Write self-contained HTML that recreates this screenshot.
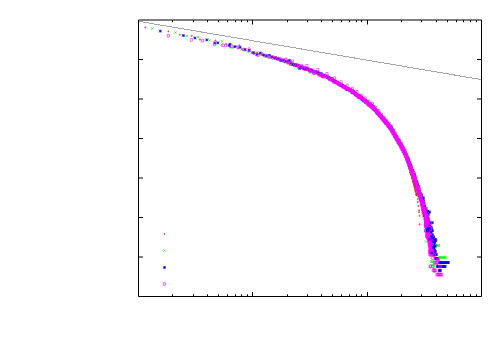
<!DOCTYPE html>
<html><head><meta charset="utf-8"><title>plot</title><style>html,body{margin:0;padding:0;background:#fff;font-family:"Liberation Sans",sans-serif}svg{display:block}</style></head><body><svg width="500" height="350" viewBox="0 0 500 350">
<rect width="500" height="350" fill="#fff"/>
<path d="M172.5 296.5v-2.2M172.5 20v2.2M193.5 296.5v-2.2M193.5 20v2.2M207.5 296.5v-2.2M207.5 20v2.2M218.5 296.5v-2.2M218.5 20v2.2M227.5 296.5v-2.2M227.5 20v2.2M235.5 296.5v-2.2M235.5 20v2.2M241.5 296.5v-2.2M241.5 20v2.2M247.5 296.5v-2.2M247.5 20v2.2M252.5 296.5v-4.5M252.5 20v4.5M287.5 296.5v-2.2M287.5 20v2.2M307.5 296.5v-2.2M307.5 20v2.2M321.5 296.5v-2.2M321.5 20v2.2M332.5 296.5v-2.2M332.5 20v2.2M341.5 296.5v-2.2M341.5 20v2.2M349.5 296.5v-2.2M349.5 20v2.2M356.5 296.5v-2.2M356.5 20v2.2M361.5 296.5v-2.2M361.5 20v2.2M367.5 296.5v-4.5M367.5 20v4.5M401.5 296.5v-2.2M401.5 20v2.2M421.5 296.5v-2.2M421.5 20v2.2M436.5 296.5v-2.2M436.5 20v2.2M447.5 296.5v-2.2M447.5 20v2.2M456.5 296.5v-2.2M456.5 20v2.2M463.5 296.5v-2.2M463.5 20v2.2M470.5 296.5v-2.2M470.5 20v2.2M476.5 296.5v-2.2M476.5 20v2.2M138.5 59.5h4.5M481.5 59.5h-4.5M138.5 99h4.5M481.5 99h-4.5M138.5 138.5h4.5M481.5 138.5h-4.5M138.5 178h4.5M481.5 178h-4.5M138.5 217.5h4.5M481.5 217.5h-4.5M138.5 257h4.5M481.5 257h-4.5" stroke="#000" stroke-width="1" fill="none"/>
<path d="M138.5 21.3L481.5 79.6" stroke="#a6a6a6" stroke-width="1" fill="none" shape-rendering="crispEdges"/>
<path d="M138.5 20H481.5V296.5H138.5z" stroke="#000" stroke-width="1" fill="none"/>
<path d="M144.3 27.4h2.1M145.4 26.3v2.1M167.4 31.4h2.1M168.5 30.3v2.1M178.8 34.8h2.1M179.8 33.8v2.1M190.6 35.8h2.1M191.7 34.8v2.1M198.9 39.6h2.1M200 38.6v2.1M214.3 40.4h2.1M215.4 39.4v2.1M225.3 44.2h2.1M226.4 43.2v2.1M238.3 45.2h2.1M239.4 44.2v2.1M229 47h2.1M230 46v2.1M233.3 47.3h2.1M234.3 46.3v2.1M237.2 48.1h2.1M238.3 47v2.1M240.9 49.5h2.1M242 48.4v2.1M244.4 50.4h2.1M245.4 49.4v2.1M247.6 51.4h2.1M248.6 50.4v2.1M250.6 52.8h2.1M251.6 51.7v2.1M253.4 53.3h2.1M254.5 52.2v2.1M256.1 52.4h2.1M257.1 51.3v2.1M258.6 53.9h2.1M259.7 52.9v2.1M261.1 54.8h2.1M262.1 53.8v2.1M263.4 54.9h2.1M264.4 53.9v2.1M265.6 56.2h2.1M266.6 55.2v2.1M267.7 57.8h2.1M268.7 56.7v2.1M269.7 57.9h2.1M270.8 56.9v2.1M271.7 57.1h2.1M272.7 56.1v2.1M273.5 58.2h2.1M274.6 57.1v2.1M275.3 59h2.1M276.4 58v2.1M277.1 58.7h2.1M278.1 57.7v2.1M278.8 60.9h2.1M279.8 59.8v2.1M280.4 60.7h2.1M281.4 59.6v2.1M282 59.9h2.1M283 58.8v2.1M283.5 62.5h2.1M284.6 61.4v2.1M285 61.7h2.1M286 60.7v2.1M286.4 61.8h2.1M287.5 60.8v2.1M287.8 62.9h2.1M288.9 61.8v2.1M289.2 64.1h2.1M290.2 63v2.1M290.5 64.7h2.1M291.6 63.6v2.1M291.8 64.8h2.1M292.8 63.7v2.1M293.1 64h2.1M294.1 63v2.1M294.3 65h2.1M295.3 64v2.1M295.5 65h2.1M296.5 63.9v2.1M296.6 66h2.1M297.7 64.9v2.1M297.8 65.3h2.1M298.8 64.2v2.1M298.9 67.3h2.1M300 66.3v2.1M300 67.9h2.1M301 66.9v2.1M301.1 66h2.1M302.1 65v2.1M302.1 67.7h2.1M303.2 66.6v2.1M303.1 69.3h2.1M304.2 68.2v2.1M304.1 69h2.1M305.2 68v2.1M305.1 69.6h2.1M306.2 68.5v2.1M306.1 70h2.1M307.1 69v2.1M307 70.3h2.1M308.1 69.3v2.1M308 71.1h2.1M309 70.1v2.1M308.9 70.9h2.1M309.9 69.9v2.1M309.8 70.5h2.1M310.8 69.4v2.1M310.6 70h2.1M311.7 69v2.1M311.5 72.2h2.1M312.6 71.2v2.1M312.4 72.9h2.1M313.4 71.8v2.1M313.2 72.1h2.1M314.2 71v2.1M314 72.9h2.1M315.1 71.8v2.1M314.8 73.5h2.1M315.9 72.4v2.1M315.6 72.8h2.1M316.7 71.8v2.1M316.4 73.4h2.1M317.4 72.3v2.1M317.2 74.3h2.1M318.2 73.2v2.1M317.9 73.7h2.1M319 72.7v2.1M318.7 74.2h2.1M319.7 73.2v2.1M319.4 74.4h2.1M320.5 73.4v2.1M320.1 74.3h2.1M321.2 73.2v2.1M320.8 74.4h2.1M321.9 73.4v2.1M321.5 75.8h2.1M322.6 74.8v2.1M322.2 76.3h2.1M323.3 75.2v2.1M322.9 76.2h2.1M324 75.1v2.1M323.6 76.7h2.1M324.7 75.7v2.1M324.3 76.8h2.1M325.3 75.8v2.1M324.9 77h2.1M326 75.9v2.1M325.6 77.6h2.1M326.6 76.5v2.1M326.2 77.7h2.1M327.3 76.7v2.1M326.8 77.7h2.1M327.9 76.6v2.1M327.5 78.7h2.1M328.5 77.6v2.1M328.1 78.7h2.1M329.1 77.7v2.1M328.7 77.5h2.1M329.7 76.5v2.1M329.3 79.3h2.1M330.4 78.3v2.1M329.9 79.6h2.1M330.9 78.6v2.1M330.5 80.2h2.1M331.5 79.1v2.1M331.1 79.9h2.1M332.1 78.8v2.1M331.6 80.7h2.1M332.7 79.6v2.1M332.2 80.7h2.1M333.3 79.7v2.1M332.8 81.1h2.1M333.8 80v2.1M333.3 81.2h2.1M334.4 80.1v2.1M333.9 81.2h2.1M334.9 80.1v2.1M334.4 82.5h2.1M335.5 81.5v2.1M334.9 83.1h2.1M336 82v2.1M335.5 82.5h2.1M336.5 81.5v2.1M336 83.3h2.1M337.1 82.2v2.1M336.5 82h2.1M337.6 81v2.1M337 82.9h2.1M338.1 81.9v2.1M337.5 83.2h2.1M338.6 82.1v2.1M338.1 84.7h2.1M339.1 83.7v2.1M338.6 84.6h2.1M339.6 83.5v2.1M339 84.8h2.1M340.1 83.8v2.1M339.5 85.7h2.1M340.6 84.7v2.1M340 85.2h2.1M341.1 84.1v2.1M340.5 85.1h2.1M341.5 84v2.1M341 85.8h2.1M342 84.7v2.1M341.4 86.5h2.1M342.5 85.4v2.1M341.9 86.7h2.1M343 85.7v2.1M342.4 86h2.1M343.4 85v2.1M342.8 86.5h2.1M343.9 85.5v2.1M343.3 86.6h2.1M344.3 85.5v2.1M343.7 87.8h2.1M344.8 86.8v2.1M344.2 87.3h2.1M345.2 86.3v2.1M344.6 87.5h2.1M345.7 86.4v2.1M345.1 89h2.1M346.1 87.9v2.1M345.5 89.2h2.1M346.5 88.2v2.1M345.9 88.7h2.1M347 87.6v2.1M346.3 89.6h2.1M347.4 88.6v2.1M346.8 89h2.1M347.8 87.9v2.1M347.2 89.7h2.1M348.2 88.6v2.1M347.6 89.3h2.1M348.7 88.2v2.1M348 90.7h2.1M349.1 89.6v2.1M348.4 90.1h2.1M349.5 89.1v2.1M348.8 90.9h2.1M349.9 89.9v2.1M349.2 90.8h2.1M350.3 89.7v2.1M349.6 90.8h2.1M350.7 89.8v2.1M350 91h2.1M351.1 89.9v2.1M350.4 91.8h2.1M351.5 90.7v2.1M350.8 91.3h2.1M351.9 90.3v2.1M351.2 92.2h2.1M352.2 91.2v2.1M351.6 92.7h2.1M352.6 91.7v2.1M352 92.9h2.1M353 91.8v2.1M352.3 93.4h2.1M353.4 92.3v2.1M352.7 93.3h2.1M353.8 92.3v2.1M353.1 92.7h2.1M354.1 91.7v2.1M353.5 93.9h2.1M354.5 92.9v2.1M353.8 93.7h2.1M354.9 92.7v2.1M354.2 94h2.1M355.2 92.9v2.1M354.5 94.4h2.1M355.6 93.3v2.1M354.9 94.6h2.1M356 93.5v2.1M355.3 95.3h2.1M356.3 94.2v2.1M355.6 94.5h2.1M356.7 93.5v2.1M356 95.8h2.1M357 94.8v2.1M356.3 95.3h2.1M357.4 94.3v2.1M356.7 96.2h2.1M357.7 95.2v2.1M357 96.5h2.1M358.1 95.5v2.1M357.3 95.9h2.1M358.4 94.8v2.1M357.7 96.4h2.1M358.7 95.3v2.1M358 96.7h2.1M359.1 95.6v2.1M358.4 96.8h2.1M359.4 95.8v2.1M358.7 97.4h2.1M359.7 96.3v2.1M359 97.8h2.1M360.1 96.8v2.1M359.3 98.1h2.1M360.4 97v2.1M359.7 97.3h2.1M360.7 96.3v2.1M360 98.3h2.1M361 97.3v2.1M360.3 98.3h2.1M361.4 97.2v2.1M360.6 98.7h2.1M361.7 97.7v2.1M361 99.5h2.1M362 98.5v2.1M361.3 99.6h2.1M362.3 98.5v2.1M361.6 99.9h2.1M362.6 98.9v2.1M361.9 98.9h2.1M362.9 97.9v2.1M362.2 100.7h2.1M363.2 99.7v2.1M362.5 100.1h2.1M363.6 99.1v2.1M362.8 99.8h2.1M363.9 98.8v2.1M363.1 101.9h2.1M364.2 100.9v2.1M363.4 101.4h2.1M364.5 100.3v2.1M363.7 101.2h2.1M364.8 100.2v2.1M364 101.9h2.1M365.1 100.9v2.1M364.3 101.7h2.1M365.4 100.7v2.1M364.6 102.3h2.1M365.7 101.3v2.1M364.9 102.1h2.1M366 101.1v2.1M365.2 102.3h2.1M366.2 101.2v2.1M365.5 102.7h2.1M366.5 101.6v2.1M365.8 102.5h2.1M366.8 101.4v2.1M366.1 103.6h2.1M367.1 102.5v2.1M366.3 102.1h2.1M367.4 101.1v2.1M366.6 103.8h2.1M367.7 102.7v2.1M366.9 104h2.1M368 102.9v2.1M367.2 104.2h2.1M368.2 103.2v2.1M367.5 104.7h2.1M368.5 103.6v2.1M367.7 104.1h2.1M368.8 103.1v2.1M368 105.5h2.1M369.1 104.4v2.1M368.3 104.6h2.1M369.3 103.5v2.1M368.6 105.2h2.1M369.6 104.1v2.1M368.8 104.9h2.1M369.9 103.8v2.1M369.1 106h2.1M370.1 104.9v2.1M369.4 105.2h2.1M370.4 104.1v2.1M369.6 106.4h2.1M370.7 105.4v2.1M369.9 106.6h2.1M370.9 105.5v2.1M370.2 106.6h2.1M371.2 105.5v2.1M370.4 106.3h2.1M371.5 105.3v2.1M370.7 107.1h2.1M371.7 106.1v2.1M370.9 107.1h2.1M372 106v2.1M371.2 107.5h2.1M372.3 106.5v2.1M371.5 107.7h2.1M372.5 106.6v2.1M371.7 108.1h2.1M372.8 107.1v2.1M372 107.6h2.1M373 106.6v2.1M372.2 108.3h2.1M373.3 107.2v2.1M372.5 108.6h2.1M373.5 107.5v2.1M372.7 108.9h2.1M373.8 107.8v2.1M373 108.5h2.1M374 107.4v2.1M373.2 109.7h2.1M374.3 108.7v2.1M373.5 109.4h2.1M374.5 108.4v2.1M373.7 109.3h2.1M374.8 108.3v2.1M374 110h2.1M375 109v2.1M374.2 110.6h2.1M375.2 109.5v2.1M374.4 109.3h2.1M375.5 108.3v2.1M374.7 111.4h2.1M375.7 110.4v2.1M374.9 110.4h2.1M376 109.3v2.1M375.2 111.5h2.1M376.2 110.4v2.1M375.4 111.6h2.1M376.4 110.5v2.1M375.6 112.1h2.1M376.7 111.1v2.1M375.9 112.3h2.1M376.9 111.3v2.1M376.1 112.8h2.1M377.1 111.7v2.1M376.3 112.1h2.1M377.4 111.1v2.1M376.6 113.2h2.1M377.6 112.2v2.1M376.8 113.6h2.1M377.8 112.6v2.1M377 113.8h2.1M378.1 112.8v2.1M377.2 114.8h2.1M378.3 113.8v2.1M377.5 113.9h2.1M378.5 112.8v2.1M377.7 115.4h2.1M378.8 114.4v2.1M377.9 114.9h2.1M379 113.8v2.1M378.2 114.8h2.1M379.2 113.7v2.1M378.4 115.1h2.1M379.4 114.1v2.1M378.6 115.8h2.1M379.6 114.7v2.1M378.8 115.6h2.1M379.9 114.5v2.1M379 116h2.1M380.1 115v2.1M379.3 116.1h2.1M380.3 115v2.1M379.5 116.6h2.1M380.5 115.6v2.1M379.7 116.3h2.1M380.7 115.3v2.1M379.9 116.2h2.1M381 115.1v2.1M380.1 116.2h2.1M381.2 115.2v2.1M380.3 117.6h2.1M381.4 116.6v2.1M380.6 117.6h2.1M381.6 116.5v2.1M380.8 117.2h2.1M381.8 116.2v2.1M381 118.4h2.1M382 117.3v2.1M381.2 118h2.1M382.2 116.9v2.1M381.4 117.8h2.1M382.4 116.8v2.1M381.6 119.3h2.1M382.7 118.2v2.1M381.8 119.1h2.1M382.9 118v2.1M382 118.6h2.1M383.1 117.5v2.1M382.2 119.1h2.1M383.3 118.1v2.1M382.4 119.2h2.1M383.5 118.2v2.1M382.6 120.2h2.1M383.7 119.1v2.1M382.8 120.6h2.1M383.9 119.6v2.1M383 121.1h2.1M384.1 120v2.1M383.2 120.6h2.1M384.3 119.5v2.1M383.5 120.6h2.1M384.5 119.5v2.1M383.7 121.3h2.1M384.7 120.2v2.1M383.9 120.8h2.1M384.9 119.7v2.1M384.1 121.7h2.1M385.1 120.7v2.1M384.2 121.8h2.1M385.3 120.8v2.1M384.4 121.9h2.1M385.5 120.8v2.1M384.6 122.6h2.1M385.7 121.5v2.1M384.8 122.4h2.1M385.9 121.3v2.1M385 121.7h2.1M386.1 120.6v2.1M385.2 123.2h2.1M386.3 122.1v2.1M385.4 123.5h2.1M386.5 122.4v2.1M385.6 123h2.1M386.7 122v2.1M385.8 123.7h2.1M386.9 122.7v2.1M386 124.4h2.1M387 123.3v2.1M386.2 124h2.1M387.2 122.9v2.1M386.4 124.5h2.1M387.4 123.5v2.1M386.6 124.9h2.1M387.6 123.9v2.1M386.8 124.4h2.1M387.8 123.4v2.1M386.9 124.9h2.1M388 123.9v2.1M387.1 125.5h2.1M388.2 124.4v2.1M387.3 125.8h2.1M388.4 124.7v2.1M387.5 125.8h2.1M388.6 124.7v2.1M387.7 126.1h2.1M388.7 125v2.1M387.9 126.5h2.1M388.9 125.4v2.1M388.1 125.6h2.1M389.1 124.5v2.1M388.2 127h2.1M389.3 126v2.1M388.4 128.2h2.1M389.5 127.1v2.1M388.6 127.9h2.1M389.7 126.9v2.1M388.8 128h2.1M389.8 126.9v2.1M389 127.7h2.1M390 126.7v2.1M389.1 127.5h2.1M390.2 126.5v2.1M389.3 127.8h2.1M390.4 126.7v2.1M389.5 129.4h2.1M390.5 128.4v2.1M389.7 128.8h2.1M390.7 127.7v2.1M389.9 129.1h2.1M390.9 128v2.1M390 129.5h2.1M391.1 128.4v2.1M390.2 130h2.1M391.3 128.9v2.1M390.4 130.7h2.1M391.4 129.7v2.1M390.6 130.3h2.1M391.6 129.2v2.1M390.7 130.3h2.1M391.8 129.3v2.1M390.9 130.5h2.1M392 129.5v2.1M391.1 130.9h2.1M392.1 129.8v2.1M391.2 131.7h2.1M392.3 130.7v2.1M391.4 131.7h2.1M392.5 130.6v2.1M391.6 132.3h2.1M392.6 131.3v2.1M391.8 132.4h2.1M392.8 131.3v2.1M391.9 133h2.1M393 132v2.1M392.1 133.8h2.1M393.1 132.8v2.1M392.3 133.5h2.1M393.3 132.4v2.1M392.4 133.4h2.1M393.5 132.3v2.1M392.6 134.5h2.1M393.7 133.4v2.1M392.8 133.4h2.1M393.8 132.3v2.1M392.9 133.5h2.1M394 132.4v2.1M393.1 134.3h2.1M394.2 133.2v2.1M393.3 134.6h2.1M394.3 133.6v2.1M393.4 134.6h2.1M394.5 133.5v2.1M393.6 134.7h2.1M394.6 133.6v2.1M393.8 135.8h2.1M394.8 134.7v2.1M393.9 135.8h2.1M395 134.7v2.1M394.1 136.2h2.1M395.1 135.2v2.1M394.2 137.2h2.1M395.3 136.1v2.1M394.4 136.7h2.1M395.5 135.6v2.1M394.6 136.7h2.1M395.6 135.6v2.1M394.7 137.1h2.1M395.8 136.1v2.1M394.9 137.8h2.1M395.9 136.7v2.1M395.1 138.8h2.1M396.1 137.7v2.1M395.2 138.1h2.1M396.3 137.1v2.1M395.4 137.5h2.1M396.4 136.5v2.1M395.5 138.7h2.1M396.6 137.7v2.1M395.7 139.1h2.1M396.7 138v2.1M395.8 139.3h2.1M396.9 138.3v2.1M396 139.8h2.1M397 138.7v2.1M396.2 139.3h2.1M397.2 138.3v2.1M396.3 139.5h2.1M397.4 138.5v2.1M396.5 140.5h2.1M397.5 139.5v2.1M396.6 140.8h2.1M397.7 139.8v2.1M396.8 140.9h2.1M397.8 139.9v2.1M396.9 141h2.1M398 139.9v2.1M397.1 141.3h2.1M398.1 140.2v2.1M397.2 141.3h2.1M398.3 140.3v2.1M397.4 142.2h2.1M398.4 141.1v2.1M397.5 142.4h2.1M398.6 141.3v2.1M397.7 142.1h2.1M398.7 141.1v2.1M397.8 142.5h2.1M398.9 141.5v2.1M398 143h2.1M399 142v2.1M398.1 142.8h2.1M399.2 141.8v2.1M398.3 143.4h2.1M399.3 142.3v2.1M398.4 144.3h2.1M399.5 143.2v2.1M398.6 143.1h2.1M399.6 142.1v2.1M398.7 144.1h2.1M399.8 143.1v2.1M398.9 144.6h2.1M399.9 143.5v2.1M399 144.6h2.1M400.1 143.5v2.1M399.2 144.7h2.1M400.2 143.6v2.1M399.3 144.5h2.1M400.4 143.5v2.1M399.5 145.6h2.1M400.5 144.5v2.1M399.6 145.9h2.1M400.7 144.9v2.1M399.8 147h2.1M400.8 145.9v2.1M399.9 145.9h2.1M400.9 144.8v2.1M400 146.7h2.1M401.1 145.7v2.1M400.2 146.1h2.1M401.2 145.1v2.1M400.3 147.1h2.1M401.4 146v2.1M400.5 147.1h2.1M401.5 146v2.1M400.6 147.7h2.1M401.7 146.6v2.1M400.8 147.7h2.1M401.8 146.6v2.1M400.9 148.4h2.1M401.9 147.4v2.1M401 148.2h2.1M402.1 147.1v2.1M401.2 148.2h2.1M402.2 147.2v2.1M401.3 149.1h2.1M402.4 148v2.1M401.5 149h2.1M402.5 147.9v2.1M401.6 149.3h2.1M402.7 148.3v2.1M401.7 149.3h2.1M402.8 148.3v2.1M401.9 149.8h2.1M402.9 148.8v2.1M402 149h2.1M403.1 147.9v2.1M402.2 150.4h2.1M403.2 149.3v2.1M402.3 150.8h2.1M403.3 149.8v2.1M402.4 150.5h2.1M403.5 149.4v2.1M402.6 150.5h2.1M403.6 149.4v2.1M402.7 151.3h2.1M403.8 150.2v2.1M402.8 151.8h2.1M403.9 150.7v2.1M403 151.8h2.1M404 150.7v2.1M403.1 153.2h2.1M404.2 152.1v2.1M403.2 153.7h2.1M404.3 152.6v2.1M403.4 153h2.1M404.4 152v2.1M403.5 154h2.1M404.6 152.9v2.1M403.7 152.6h2.1M404.7 151.6v2.1M403.8 154.7h2.1M404.8 153.6v2.1M403.9 155.9h2.1M405 154.8v2.1M404.1 155.1h2.1M405.1 154v2.1M404.2 155.7h2.1M405.2 154.6v2.1M404.3 155.5h2.1M405.4 154.4v2.1M404.4 154.4h2.1M405.5 153.3v2.1M404.6 156.4h2.1M405.6 155.3v2.1M404.7 157.9h2.1M405.8 156.9v2.1M404.8 157h2.1M405.9 155.9v2.1M405 156.9h2.1M406 155.9v2.1M405.1 157.9h2.1M406.2 156.8v2.1M405.2 158.2h2.1M406.3 157.1v2.1M405.4 158.8h2.1M406.4 157.8v2.1M405.5 158.9h2.1M406.5 157.9v2.1M405.6 159.3h2.1M406.7 158.2v2.1M405.7 159.8h2.1M406.8 158.8v2.1M405.9 159.6h2.1M406.9 158.5v2.1M406 160.7h2.1M407.1 159.7v2.1M406.1 160.8h2.1M407.2 159.7v2.1M406.3 161.5h2.1M407.3 160.5v2.1M406.4 161.4h2.1M407.4 160.4v2.1M406.5 161.7h2.1M407.6 160.6v2.1M406.6 162.2h2.1M407.7 161.1v2.1M406.8 162.9h2.1M407.8 161.8v2.1M406.9 163.2h2.1M407.9 162.2v2.1M407 162.5h2.1M408.1 161.5v2.1M407.1 164.1h2.1M408.2 163v2.1M407.3 164.8h2.1M408.3 163.7v2.1M407.4 165.4h2.1M408.4 164.4v2.1M407.5 165.4h2.1M408.6 164.3v2.1M407.6 166.4h2.1M408.7 165.3v2.1M407.8 166.3h2.1M408.8 165.2v2.1M407.9 166.5h2.1M408.9 165.4v2.1M408 167.4h2.1M409.1 166.3v2.1M408.1 168.2h2.1M409.2 167.2v2.1M408.2 167.6h2.1M409.3 166.5v2.1M408.4 167.8h2.1M409.4 166.7v2.1M408.5 168.7h2.1M409.5 167.7v2.1M408.6 168.5h2.1M409.7 167.5v2.1M408.7 169.1h2.1M409.8 168v2.1M408.9 169.1h2.1M409.9 168.1v2.1M409 170.4h2.1M410 169.3v2.1M409.1 170.5h2.1M410.1 169.4v2.1M409.2 172.1h2.1M410.3 171v2.1M409.3 171.6h2.1M410.4 170.6v2.1M409.5 172.7h2.1M410.5 171.7v2.1M409.6 172.6h2.1M410.6 171.5v2.1M409.7 173h2.1M410.7 172v2.1M409.8 173.2h2.1M410.9 172.1v2.1M409.9 174.2h2.1M411 173.2v2.1M410 173.1h2.1M411.1 172v2.1M410.2 174.6h2.1M411.2 173.6v2.1M410.3 173.3h2.1M411.3 172.3v2.1M410.4 173.9h2.1M411.4 172.9v2.1M410.5 174.8h2.1M411.6 173.7v2.1M410.6 175.5h2.1M411.7 174.4v2.1M410.7 175.1h2.1M411.8 174.1v2.1M410.9 175.9h2.1M411.9 174.8v2.1M411 176.9h2.1M412 175.9v2.1M411.1 178.6h2.1M412.1 177.5v2.1M411.2 176.5h2.1M412.3 175.5v2.1M411.3 176.7h2.1M412.4 175.7v2.1M411.4 177.5h2.1M412.5 176.4v2.1M411.6 178.3h2.1M412.6 177.3v2.1M411.7 179.3h2.1M412.7 178.2v2.1M411.8 177.8h2.1M412.8 176.8v2.1M411.9 179.9h2.1M412.9 178.9v2.1M412 180.9h2.1M413.1 179.9v2.1M412.1 181.1h2.1M413.2 180.1v2.1M412.2 182h2.1M413.3 180.9v2.1M412.3 181.9h2.1M413.4 180.9v2.1M412.5 182h2.1M413.5 181v2.1M412.6 182.8h2.1M413.6 181.7v2.1M412.7 182.9h2.1M413.7 181.9v2.1M412.8 181.5h2.1M413.8 180.4v2.1M412.9 184.1h2.1M414 183v2.1M413 184.6h2.1M414.1 183.5v2.1M413.1 184.9h2.1M414.2 183.8v2.1M413.2 184.1h2.1M414.3 183v2.1M413.3 186.3h2.1M414.4 185.2v2.1M413.5 185.1h2.1M414.5 184v2.1M413.6 186.1h2.1M414.6 185v2.1M413.7 186.4h2.1M414.7 185.4v2.1M413.8 187.6h2.1M414.8 186.6v2.1M413.9 186.6h2.1M414.9 185.5v2.1M414 187.4h2.1M415.1 186.3v2.1M414.1 189.9h2.1M415.2 188.8v2.1M414.2 188.1h2.1M415.3 187.1v2.1M414.3 189.1h2.1M415.4 188.1v2.1M414.4 189.5h2.1M415.5 188.5v2.1M414.5 189.6h2.1M415.6 188.5v2.1M414.7 191.9h2.1M415.7 190.9v2.1M414.8 190.5h2.1M415.8 189.4v2.1M414.9 190.8h2.1M415.9 189.7v2.1M415 194.2h2.1M416 193.2v2.1M415.1 190.2h2.1M416.1 189.2v2.1M415.2 190.6h2.1M416.2 189.5v2.1M415.3 191.9h2.1M416.3 190.9v2.1M415.4 194.5h2.1M416.4 193.4v2.1M415.5 190.7h2.1M416.6 189.6v2.1M415.6 195.3h2.1M416.7 194.2v2.1M415.7 193.2h2.1M416.8 192.2v2.1M415.8 195h2.1M416.9 194v2.1M415.9 191.4h2.1M417 190.3v2.1M431.2 256h2.1M432.3 254.9v2.1M436.1 264.3h2.1M437.2 263.2v2.1M432.2 268h2.1M433.3 266.9v2.1M416.8 199h2.1M417.8 197.9v2.1M416.8 202h2.1M417.8 200.9v2.1M417.3 206.2h2.1M418.4 205.1v2.1M417.9 210.4h2.1M419 209.3v2.1M417.9 212.2h2.1M419 211.1v2.1M418.6 215.8h2.1M419.6 214.8v2.1M418.6 224.2h2.1M419.6 223.1v2.1M163.4 234h2.1M164.5 232.9v2.1" stroke="#f00" stroke-width="0.55" fill="none"/>
<path d="M151.2 27.5l2.3 2.3M151.2 29.8l2.3 -2.3M174.3 31.4l2.3 2.3M174.3 33.6l2.3 -2.3M185.8 34.9l2.3 2.3M185.8 37.1l2.3 -2.3M197 35.9l2.3 2.3M197 38.1l2.3 -2.3M208.4 39.2l2.3 2.3M208.4 41.5l2.3 -2.3M221.2 40.1l2.3 2.3M221.2 42.4l2.3 -2.3M220.4 43.6l2.3 2.3M220.4 45.9l2.3 -2.3M231.1 46.8l2.3 2.3M231.1 49.1l2.3 -2.3M235.8 45.3l2.3 2.3M235.8 47.6l2.3 -2.3M240.1 48.4l2.3 2.3M240.1 50.7l2.3 -2.3M244.1 48.6l2.3 2.3M244.1 50.9l2.3 -2.3M247.8 50.5l2.3 2.3M247.8 52.8l2.3 -2.3M251.2 51.1l2.3 2.3M251.2 53.4l2.3 -2.3M254.4 51.8l2.3 2.3M254.4 54.1l2.3 -2.3M257.4 52.8l2.3 2.3M257.4 55.1l2.3 -2.3M260.2 53.3l2.3 2.3M260.2 55.6l2.3 -2.3M262.9 55.3l2.3 2.3M262.9 57.6l2.3 -2.3M265.5 54.6l2.3 2.3M265.5 56.9l2.3 -2.3M267.9 56.4l2.3 2.3M267.9 58.7l2.3 -2.3M270.2 56.3l2.3 2.3M270.2 58.6l2.3 -2.3M272.4 57.5l2.3 2.3M272.4 59.8l2.3 -2.3M274.5 56.2l2.3 2.3M274.5 58.5l2.3 -2.3M276.5 58.7l2.3 2.3M276.5 61l2.3 -2.3M278.5 58.8l2.3 2.3M278.5 61.1l2.3 -2.3M280.4 59.3l2.3 2.3M280.4 61.6l2.3 -2.3M282.2 59.7l2.3 2.3M282.2 62l2.3 -2.3M283.9 60.3l2.3 2.3M283.9 62.6l2.3 -2.3M285.6 61.8l2.3 2.3M285.6 64.1l2.3 -2.3M287.2 62.4l2.3 2.3M287.2 64.7l2.3 -2.3M288.8 62.8l2.3 2.3M288.8 65.1l2.3 -2.3M290.3 63.3l2.3 2.3M290.3 65.6l2.3 -2.3M291.8 63.7l2.3 2.3M291.8 66l2.3 -2.3M293.3 62.9l2.3 2.3M293.3 65.2l2.3 -2.3M294.7 64.9l2.3 2.3M294.7 67.2l2.3 -2.3M296 65.4l2.3 2.3M296 67.7l2.3 -2.3M297.3 66.4l2.3 2.3M297.3 68.7l2.3 -2.3M298.6 66.7l2.3 2.3M298.6 69l2.3 -2.3M299.9 66.6l2.3 2.3M299.9 68.9l2.3 -2.3M301.1 66.8l2.3 2.3M301.1 69.1l2.3 -2.3M302.3 66.2l2.3 2.3M302.3 68.5l2.3 -2.3M303.5 67.9l2.3 2.3M303.5 70.2l2.3 -2.3M304.6 68.3l2.3 2.3M304.6 70.6l2.3 -2.3M305.7 68.5l2.3 2.3M305.7 70.8l2.3 -2.3M306.8 67.2l2.3 2.3M306.8 69.5l2.3 -2.3M307.9 68.2l2.3 2.3M307.9 70.5l2.3 -2.3M308.9 71.6l2.3 2.3M308.9 73.9l2.3 -2.3M310 70.2l2.3 2.3M310 72.5l2.3 -2.3M311 70.3l2.3 2.3M311 72.6l2.3 -2.3M312 69.4l2.3 2.3M312 71.7l2.3 -2.3M312.9 71.5l2.3 2.3M312.9 73.8l2.3 -2.3M313.9 71.2l2.3 2.3M313.9 73.5l2.3 -2.3M314.8 71.6l2.3 2.3M314.8 73.9l2.3 -2.3M315.7 72l2.3 2.3M315.7 74.3l2.3 -2.3M316.6 72.6l2.3 2.3M316.6 74.9l2.3 -2.3M317.5 73.5l2.3 2.3M317.5 75.8l2.3 -2.3M318.3 73.3l2.3 2.3M318.3 75.6l2.3 -2.3M319.2 73.8l2.3 2.3M319.2 76.1l2.3 -2.3M320 75.2l2.3 2.3M320 77.5l2.3 -2.3M320.8 73.2l2.3 2.3M320.8 75.5l2.3 -2.3M321.6 75.6l2.3 2.3M321.6 77.9l2.3 -2.3M322.4 75.5l2.3 2.3M322.4 77.8l2.3 -2.3M323.2 75l2.3 2.3M323.2 77.3l2.3 -2.3M324 75.3l2.3 2.3M324 77.6l2.3 -2.3M324.8 75.6l2.3 2.3M324.8 77.9l2.3 -2.3M325.5 77.5l2.3 2.3M325.5 79.8l2.3 -2.3M326.2 76.4l2.3 2.3M326.2 78.7l2.3 -2.3M327 76.7l2.3 2.3M327 79l2.3 -2.3M327.7 77.5l2.3 2.3M327.7 79.8l2.3 -2.3M328.4 78.6l2.3 2.3M328.4 80.9l2.3 -2.3M329.1 78.4l2.3 2.3M329.1 80.7l2.3 -2.3M329.8 78.5l2.3 2.3M329.8 80.8l2.3 -2.3M330.4 78.7l2.3 2.3M330.4 81l2.3 -2.3M331.1 78.3l2.3 2.3M331.1 80.6l2.3 -2.3M331.8 79.4l2.3 2.3M331.8 81.7l2.3 -2.3M332.4 80.1l2.3 2.3M332.4 82.4l2.3 -2.3M333 80.5l2.3 2.3M333 82.8l2.3 -2.3M333.7 80.5l2.3 2.3M333.7 82.8l2.3 -2.3M334.3 81.1l2.3 2.3M334.3 83.4l2.3 -2.3M334.9 81.8l2.3 2.3M334.9 84.1l2.3 -2.3M335.5 81.8l2.3 2.3M335.5 84.1l2.3 -2.3M336.1 82.3l2.3 2.3M336.1 84.6l2.3 -2.3M336.7 82.9l2.3 2.3M336.7 85.2l2.3 -2.3M337.3 83.6l2.3 2.3M337.3 85.9l2.3 -2.3M337.9 83.1l2.3 2.3M337.9 85.4l2.3 -2.3M338.5 83.3l2.3 2.3M338.5 85.6l2.3 -2.3M339 84.8l2.3 2.3M339 87.1l2.3 -2.3M339.6 84.5l2.3 2.3M339.6 86.8l2.3 -2.3M340.2 85l2.3 2.3M340.2 87.3l2.3 -2.3M340.7 84.4l2.3 2.3M340.7 86.7l2.3 -2.3M341.2 85.5l2.3 2.3M341.2 87.8l2.3 -2.3M341.8 85.6l2.3 2.3M341.8 87.9l2.3 -2.3M342.3 85.7l2.3 2.3M342.3 88l2.3 -2.3M342.8 85.8l2.3 2.3M342.8 88.1l2.3 -2.3M343.4 86.2l2.3 2.3M343.4 88.5l2.3 -2.3M343.9 87.8l2.3 2.3M343.9 90.1l2.3 -2.3M344.4 87.2l2.3 2.3M344.4 89.5l2.3 -2.3M344.9 87.6l2.3 2.3M344.9 89.9l2.3 -2.3M345.4 87.9l2.3 2.3M345.4 90.2l2.3 -2.3M345.9 88l2.3 2.3M345.9 90.3l2.3 -2.3M346.4 88.1l2.3 2.3M346.4 90.4l2.3 -2.3M346.9 89.1l2.3 2.3M346.9 91.4l2.3 -2.3M347.3 88.8l2.3 2.3M347.3 91.1l2.3 -2.3M347.8 88.8l2.3 2.3M347.8 91.1l2.3 -2.3M348.3 89.7l2.3 2.3M348.3 92l2.3 -2.3M348.7 89.9l2.3 2.3M348.7 92.2l2.3 -2.3M349.2 89.2l2.3 2.3M349.2 91.5l2.3 -2.3M349.7 90.2l2.3 2.3M349.7 92.5l2.3 -2.3M350.1 89.9l2.3 2.3M350.1 92.2l2.3 -2.3M350.6 90.2l2.3 2.3M350.6 92.5l2.3 -2.3M351 91.2l2.3 2.3M351 93.5l2.3 -2.3M351.5 91.4l2.3 2.3M351.5 93.7l2.3 -2.3M351.9 92.2l2.3 2.3M351.9 94.5l2.3 -2.3M352.3 91.1l2.3 2.3M352.3 93.4l2.3 -2.3M352.8 91.8l2.3 2.3M352.8 94.1l2.3 -2.3M353.2 92.3l2.3 2.3M353.2 94.6l2.3 -2.3M353.6 92.2l2.3 2.3M353.6 94.5l2.3 -2.3M354 93.7l2.3 2.3M354 96l2.3 -2.3M354.4 93.3l2.3 2.3M354.4 95.6l2.3 -2.3M354.8 93.7l2.3 2.3M354.8 96l2.3 -2.3M355.3 94.4l2.3 2.3M355.3 96.7l2.3 -2.3M355.7 93.3l2.3 2.3M355.7 95.6l2.3 -2.3M356.1 94.2l2.3 2.3M356.1 96.5l2.3 -2.3M356.5 94.7l2.3 2.3M356.5 97l2.3 -2.3M356.9 96.2l2.3 2.3M356.9 98.5l2.3 -2.3M357.3 95.1l2.3 2.3M357.3 97.4l2.3 -2.3M357.6 94.8l2.3 2.3M357.6 97.1l2.3 -2.3M358 96.3l2.3 2.3M358 98.6l2.3 -2.3M358.4 95.6l2.3 2.3M358.4 97.9l2.3 -2.3M358.8 97l2.3 2.3M358.8 99.3l2.3 -2.3M359.2 96.9l2.3 2.3M359.2 99.2l2.3 -2.3M359.5 97.9l2.3 2.3M359.5 100.2l2.3 -2.3M359.9 98.1l2.3 2.3M359.9 100.4l2.3 -2.3M360.3 98l2.3 2.3M360.3 100.3l2.3 -2.3M360.7 98.8l2.3 2.3M360.7 101.1l2.3 -2.3M361 98.7l2.3 2.3M361 101l2.3 -2.3M361.4 98.7l2.3 2.3M361.4 101l2.3 -2.3M361.7 98.4l2.3 2.3M361.7 100.7l2.3 -2.3M362.1 98.6l2.3 2.3M362.1 100.9l2.3 -2.3M362.4 99.8l2.3 2.3M362.4 102.1l2.3 -2.3M362.8 100.4l2.3 2.3M362.8 102.7l2.3 -2.3M363.1 99.2l2.3 2.3M363.1 101.5l2.3 -2.3M363.5 100.7l2.3 2.3M363.5 103l2.3 -2.3M363.8 100.1l2.3 2.3M363.8 102.4l2.3 -2.3M364.2 101.1l2.3 2.3M364.2 103.4l2.3 -2.3M364.5 101.2l2.3 2.3M364.5 103.5l2.3 -2.3M364.9 100.7l2.3 2.3M364.9 103l2.3 -2.3M365.2 101l2.3 2.3M365.2 103.3l2.3 -2.3M365.5 101.6l2.3 2.3M365.5 103.9l2.3 -2.3M365.8 102.3l2.3 2.3M365.8 104.6l2.3 -2.3M366.2 102.1l2.3 2.3M366.2 104.4l2.3 -2.3M366.5 103.1l2.3 2.3M366.5 105.4l2.3 -2.3M366.8 103l2.3 2.3M366.8 105.3l2.3 -2.3M367.1 103.9l2.3 2.3M367.1 106.2l2.3 -2.3M367.5 103.7l2.3 2.3M367.5 106l2.3 -2.3M367.8 103.6l2.3 2.3M367.8 105.9l2.3 -2.3M368.1 103.4l2.3 2.3M368.1 105.7l2.3 -2.3M368.4 104.3l2.3 2.3M368.4 106.6l2.3 -2.3M368.7 104.7l2.3 2.3M368.7 107l2.3 -2.3M369 105.3l2.3 2.3M369 107.6l2.3 -2.3M369.3 104.9l2.3 2.3M369.3 107.2l2.3 -2.3M369.6 105.1l2.3 2.3M369.6 107.4l2.3 -2.3M369.9 105.3l2.3 2.3M369.9 107.6l2.3 -2.3M370.3 105.8l2.3 2.3M370.3 108.1l2.3 -2.3M370.6 104.8l2.3 2.3M370.6 107.1l2.3 -2.3M370.8 106.3l2.3 2.3M370.8 108.6l2.3 -2.3M371.1 106.6l2.3 2.3M371.1 108.9l2.3 -2.3M371.4 107.3l2.3 2.3M371.4 109.6l2.3 -2.3M371.7 107.7l2.3 2.3M371.7 110l2.3 -2.3M372 108.4l2.3 2.3M372 110.7l2.3 -2.3M372.3 107.9l2.3 2.3M372.3 110.2l2.3 -2.3M372.6 107.4l2.3 2.3M372.6 109.7l2.3 -2.3M372.9 108.6l2.3 2.3M372.9 110.9l2.3 -2.3M373.2 108.9l2.3 2.3M373.2 111.2l2.3 -2.3M373.5 108l2.3 2.3M373.5 110.3l2.3 -2.3M373.7 108.7l2.3 2.3M373.7 111l2.3 -2.3M374 109.6l2.3 2.3M374 111.9l2.3 -2.3M374.3 109.5l2.3 2.3M374.3 111.8l2.3 -2.3M374.6 109.8l2.3 2.3M374.6 112.1l2.3 -2.3M374.8 110.5l2.3 2.3M374.8 112.8l2.3 -2.3M375.1 110.2l2.3 2.3M375.1 112.5l2.3 -2.3M375.4 111.4l2.3 2.3M375.4 113.7l2.3 -2.3M375.7 111.6l2.3 2.3M375.7 113.9l2.3 -2.3M375.9 111.3l2.3 2.3M375.9 113.6l2.3 -2.3M376.2 111.1l2.3 2.3M376.2 113.4l2.3 -2.3M376.5 112.4l2.3 2.3M376.5 114.7l2.3 -2.3M376.7 113.1l2.3 2.3M376.7 115.4l2.3 -2.3M377 112l2.3 2.3M377 114.3l2.3 -2.3M377.3 113.4l2.3 2.3M377.3 115.7l2.3 -2.3M377.5 112.7l2.3 2.3M377.5 115l2.3 -2.3M377.8 113.9l2.3 2.3M377.8 116.2l2.3 -2.3M378 113.7l2.3 2.3M378 116l2.3 -2.3M378.3 114.5l2.3 2.3M378.3 116.8l2.3 -2.3M378.5 113.7l2.3 2.3M378.5 116l2.3 -2.3M378.8 115l2.3 2.3M378.8 117.3l2.3 -2.3M379.1 115.5l2.3 2.3M379.1 117.8l2.3 -2.3M379.3 115.4l2.3 2.3M379.3 117.7l2.3 -2.3M379.6 116l2.3 2.3M379.6 118.3l2.3 -2.3M379.8 115.9l2.3 2.3M379.8 118.2l2.3 -2.3M380 117l2.3 2.3M380 119.3l2.3 -2.3M380.3 116.8l2.3 2.3M380.3 119.1l2.3 -2.3M380.5 116.8l2.3 2.3M380.5 119.1l2.3 -2.3M380.8 116.7l2.3 2.3M380.8 119l2.3 -2.3M381 118.1l2.3 2.3M381 120.4l2.3 -2.3M381.3 117.9l2.3 2.3M381.3 120.2l2.3 -2.3M381.5 118.1l2.3 2.3M381.5 120.4l2.3 -2.3M381.7 118.8l2.3 2.3M381.7 121.1l2.3 -2.3M382 118.1l2.3 2.3M382 120.4l2.3 -2.3M382.2 118.5l2.3 2.3M382.2 120.8l2.3 -2.3M382.5 119.6l2.3 2.3M382.5 121.9l2.3 -2.3M382.7 119.8l2.3 2.3M382.7 122.1l2.3 -2.3M382.9 119.4l2.3 2.3M382.9 121.7l2.3 -2.3M383.2 119.6l2.3 2.3M383.2 121.9l2.3 -2.3M383.4 120.4l2.3 2.3M383.4 122.7l2.3 -2.3M383.6 119.6l2.3 2.3M383.6 121.9l2.3 -2.3M383.9 120.1l2.3 2.3M383.9 122.4l2.3 -2.3M384.1 120.5l2.3 2.3M384.1 122.8l2.3 -2.3M384.3 120.9l2.3 2.3M384.3 123.2l2.3 -2.3M384.5 122.2l2.3 2.3M384.5 124.5l2.3 -2.3M384.8 122.1l2.3 2.3M384.8 124.4l2.3 -2.3M385 121.4l2.3 2.3M385 123.7l2.3 -2.3M385.2 122.1l2.3 2.3M385.2 124.4l2.3 -2.3M385.4 122.9l2.3 2.3M385.4 125.2l2.3 -2.3M385.7 122.6l2.3 2.3M385.7 124.9l2.3 -2.3M385.9 122.3l2.3 2.3M385.9 124.6l2.3 -2.3M386.1 124.1l2.3 2.3M386.1 126.4l2.3 -2.3M386.3 123.3l2.3 2.3M386.3 125.6l2.3 -2.3M386.5 124.1l2.3 2.3M386.5 126.4l2.3 -2.3M386.7 124.4l2.3 2.3M386.7 126.7l2.3 -2.3M387 125.2l2.3 2.3M387 127.5l2.3 -2.3M387.2 124.6l2.3 2.3M387.2 126.9l2.3 -2.3M387.4 125.5l2.3 2.3M387.4 127.8l2.3 -2.3M387.6 125.2l2.3 2.3M387.6 127.5l2.3 -2.3M387.8 125.6l2.3 2.3M387.8 127.9l2.3 -2.3M388 125.4l2.3 2.3M388 127.7l2.3 -2.3M388.2 126.7l2.3 2.3M388.2 129l2.3 -2.3M388.4 127.1l2.3 2.3M388.4 129.4l2.3 -2.3M388.6 127.2l2.3 2.3M388.6 129.5l2.3 -2.3M388.9 127.8l2.3 2.3M388.9 130.1l2.3 -2.3M389.1 127.3l2.3 2.3M389.1 129.6l2.3 -2.3M389.3 127.9l2.3 2.3M389.3 130.2l2.3 -2.3M389.5 127.8l2.3 2.3M389.5 130.1l2.3 -2.3M389.7 128.4l2.3 2.3M389.7 130.7l2.3 -2.3M389.9 128.7l2.3 2.3M389.9 131l2.3 -2.3M390.1 129.5l2.3 2.3M390.1 131.8l2.3 -2.3M390.3 128.9l2.3 2.3M390.3 131.2l2.3 -2.3M390.5 130.2l2.3 2.3M390.5 132.5l2.3 -2.3M390.7 130l2.3 2.3M390.7 132.3l2.3 -2.3M390.9 130.7l2.3 2.3M390.9 133l2.3 -2.3M391.1 129.8l2.3 2.3M391.1 132.1l2.3 -2.3M391.3 130.9l2.3 2.3M391.3 133.2l2.3 -2.3M391.5 132.2l2.3 2.3M391.5 134.5l2.3 -2.3M391.7 131.9l2.3 2.3M391.7 134.2l2.3 -2.3M391.9 131l2.3 2.3M391.9 133.3l2.3 -2.3M392.1 132.1l2.3 2.3M392.1 134.4l2.3 -2.3M392.3 132.3l2.3 2.3M392.3 134.6l2.3 -2.3M392.4 132.3l2.3 2.3M392.4 134.6l2.3 -2.3M392.6 132.7l2.3 2.3M392.6 135l2.3 -2.3M392.8 133.6l2.3 2.3M392.8 135.9l2.3 -2.3M393 133.8l2.3 2.3M393 136.1l2.3 -2.3M393.2 134l2.3 2.3M393.2 136.3l2.3 -2.3M393.4 134.7l2.3 2.3M393.4 137l2.3 -2.3M393.6 135.1l2.3 2.3M393.6 137.4l2.3 -2.3M393.8 135.2l2.3 2.3M393.8 137.5l2.3 -2.3M394 134.9l2.3 2.3M394 137.2l2.3 -2.3M394.1 135.2l2.3 2.3M394.1 137.5l2.3 -2.3M394.3 136.2l2.3 2.3M394.3 138.5l2.3 -2.3M394.5 135.8l2.3 2.3M394.5 138.1l2.3 -2.3M394.7 137.3l2.3 2.3M394.7 139.6l2.3 -2.3M394.9 136.9l2.3 2.3M394.9 139.2l2.3 -2.3M395.1 137.3l2.3 2.3M395.1 139.6l2.3 -2.3M395.3 137.3l2.3 2.3M395.3 139.6l2.3 -2.3M395.4 138l2.3 2.3M395.4 140.3l2.3 -2.3M395.6 139l2.3 2.3M395.6 141.3l2.3 -2.3M395.8 138.7l2.3 2.3M395.8 141l2.3 -2.3M396 138.4l2.3 2.3M396 140.7l2.3 -2.3M396.2 140l2.3 2.3M396.2 142.3l2.3 -2.3M396.3 139l2.3 2.3M396.3 141.3l2.3 -2.3M396.5 138.9l2.3 2.3M396.5 141.2l2.3 -2.3M396.7 139.3l2.3 2.3M396.7 141.6l2.3 -2.3M396.9 141.1l2.3 2.3M396.9 143.4l2.3 -2.3M397 140.6l2.3 2.3M397 142.9l2.3 -2.3M397.2 141.4l2.3 2.3M397.2 143.7l2.3 -2.3M397.4 141.2l2.3 2.3M397.4 143.5l2.3 -2.3M397.6 141.9l2.3 2.3M397.6 144.2l2.3 -2.3M397.7 142l2.3 2.3M397.7 144.3l2.3 -2.3M397.9 142.3l2.3 2.3M397.9 144.6l2.3 -2.3M398.1 142.6l2.3 2.3M398.1 144.9l2.3 -2.3M398.3 142.6l2.3 2.3M398.3 144.9l2.3 -2.3M398.4 143.2l2.3 2.3M398.4 145.5l2.3 -2.3M398.6 143.6l2.3 2.3M398.6 145.9l2.3 -2.3M398.8 143l2.3 2.3M398.8 145.3l2.3 -2.3M398.9 144.4l2.3 2.3M398.9 146.7l2.3 -2.3M399.1 144.3l2.3 2.3M399.1 146.6l2.3 -2.3M399.3 144.2l2.3 2.3M399.3 146.5l2.3 -2.3M399.4 145.1l2.3 2.3M399.4 147.4l2.3 -2.3M399.6 144.3l2.3 2.3M399.6 146.6l2.3 -2.3M399.8 146.6l2.3 2.3M399.8 148.9l2.3 -2.3M399.9 145.8l2.3 2.3M399.9 148.1l2.3 -2.3M400.1 146.1l2.3 2.3M400.1 148.4l2.3 -2.3M400.3 145.9l2.3 2.3M400.3 148.2l2.3 -2.3M400.4 147.5l2.3 2.3M400.4 149.8l2.3 -2.3M400.6 147.4l2.3 2.3M400.6 149.7l2.3 -2.3M400.8 147.2l2.3 2.3M400.8 149.5l2.3 -2.3M400.9 148.2l2.3 2.3M400.9 150.5l2.3 -2.3M401.1 148.2l2.3 2.3M401.1 150.5l2.3 -2.3M401.2 148l2.3 2.3M401.2 150.3l2.3 -2.3M401.4 148.2l2.3 2.3M401.4 150.5l2.3 -2.3M401.6 148.8l2.3 2.3M401.6 151.1l2.3 -2.3M401.7 148.8l2.3 2.3M401.7 151.1l2.3 -2.3M401.9 148.7l2.3 2.3M401.9 151l2.3 -2.3M402 150.1l2.3 2.3M402 152.4l2.3 -2.3M402.2 150.7l2.3 2.3M402.2 153l2.3 -2.3M402.4 149.7l2.3 2.3M402.4 152l2.3 -2.3M402.5 151.3l2.3 2.3M402.5 153.6l2.3 -2.3M402.7 151l2.3 2.3M402.7 153.3l2.3 -2.3M402.8 151.8l2.3 2.3M402.8 154.1l2.3 -2.3M403 152.1l2.3 2.3M403 154.4l2.3 -2.3M403.1 152.2l2.3 2.3M403.1 154.5l2.3 -2.3M403.3 151.8l2.3 2.3M403.3 154.1l2.3 -2.3M403.4 152.9l2.3 2.3M403.4 155.2l2.3 -2.3M403.6 152.7l2.3 2.3M403.6 155l2.3 -2.3M403.8 153l2.3 2.3M403.8 155.3l2.3 -2.3M403.9 153.7l2.3 2.3M403.9 156l2.3 -2.3M404.1 153.8l2.3 2.3M404.1 156.1l2.3 -2.3M404.2 154.6l2.3 2.3M404.2 156.9l2.3 -2.3M404.4 155.2l2.3 2.3M404.4 157.5l2.3 -2.3M404.5 154.5l2.3 2.3M404.5 156.8l2.3 -2.3M404.7 155.3l2.3 2.3M404.7 157.6l2.3 -2.3M404.8 155.6l2.3 2.3M404.8 157.9l2.3 -2.3M405 156.1l2.3 2.3M405 158.4l2.3 -2.3M405.1 157.2l2.3 2.3M405.1 159.5l2.3 -2.3M405.3 157.5l2.3 2.3M405.3 159.8l2.3 -2.3M405.4 156.2l2.3 2.3M405.4 158.5l2.3 -2.3M405.6 158.4l2.3 2.3M405.6 160.7l2.3 -2.3M405.7 158.4l2.3 2.3M405.7 160.7l2.3 -2.3M405.9 158.1l2.3 2.3M405.9 160.4l2.3 -2.3M406 158.9l2.3 2.3M406 161.2l2.3 -2.3M406.2 159.5l2.3 2.3M406.2 161.8l2.3 -2.3M406.3 158.3l2.3 2.3M406.3 160.6l2.3 -2.3M406.4 160.3l2.3 2.3M406.4 162.6l2.3 -2.3M406.6 160.2l2.3 2.3M406.6 162.5l2.3 -2.3M406.7 160.3l2.3 2.3M406.7 162.6l2.3 -2.3M406.9 161.2l2.3 2.3M406.9 163.5l2.3 -2.3M407 162.2l2.3 2.3M407 164.5l2.3 -2.3M407.2 163.6l2.3 2.3M407.2 165.9l2.3 -2.3M407.3 163.6l2.3 2.3M407.3 165.9l2.3 -2.3M407.4 162.8l2.3 2.3M407.4 165.1l2.3 -2.3M407.6 162.7l2.3 2.3M407.6 165l2.3 -2.3M407.7 163.2l2.3 2.3M407.7 165.5l2.3 -2.3M407.9 165l2.3 2.3M407.9 167.3l2.3 -2.3M408 163.2l2.3 2.3M408 165.5l2.3 -2.3M408.2 164.5l2.3 2.3M408.2 166.8l2.3 -2.3M408.3 164l2.3 2.3M408.3 166.3l2.3 -2.3M408.4 164.6l2.3 2.3M408.4 166.9l2.3 -2.3M408.6 167l2.3 2.3M408.6 169.3l2.3 -2.3M408.7 166.2l2.3 2.3M408.7 168.5l2.3 -2.3M408.9 167.6l2.3 2.3M408.9 169.9l2.3 -2.3M409 167l2.3 2.3M409 169.3l2.3 -2.3M409.1 167.8l2.3 2.3M409.1 170.1l2.3 -2.3M409.3 169.3l2.3 2.3M409.3 171.6l2.3 -2.3M409.4 168.1l2.3 2.3M409.4 170.4l2.3 -2.3M409.5 168.5l2.3 2.3M409.5 170.8l2.3 -2.3M409.7 168.4l2.3 2.3M409.7 170.7l2.3 -2.3M409.8 170.8l2.3 2.3M409.8 173.1l2.3 -2.3M409.9 169.7l2.3 2.3M409.9 172l2.3 -2.3M410.1 169.4l2.3 2.3M410.1 171.7l2.3 -2.3M410.2 170.2l2.3 2.3M410.2 172.5l2.3 -2.3M410.3 171.8l2.3 2.3M410.3 174.1l2.3 -2.3M410.5 170.7l2.3 2.3M410.5 173l2.3 -2.3M410.6 173.8l2.3 2.3M410.6 176.1l2.3 -2.3M410.7 170.9l2.3 2.3M410.7 173.2l2.3 -2.3M410.9 172.5l2.3 2.3M410.9 174.8l2.3 -2.3M411 173.9l2.3 2.3M411 176.2l2.3 -2.3M411.1 172.3l2.3 2.3M411.1 174.6l2.3 -2.3M411.3 172.5l2.3 2.3M411.3 174.8l2.3 -2.3M411.4 173.4l2.3 2.3M411.4 175.7l2.3 -2.3M411.5 172.2l2.3 2.3M411.5 174.5l2.3 -2.3M411.7 174.2l2.3 2.3M411.7 176.5l2.3 -2.3M411.8 175.3l2.3 2.3M411.8 177.6l2.3 -2.3M411.9 174.4l2.3 2.3M411.9 176.7l2.3 -2.3M412.1 175.1l2.3 2.3M412.1 177.4l2.3 -2.3M412.2 177.4l2.3 2.3M412.2 179.7l2.3 -2.3M412.3 175.7l2.3 2.3M412.3 178l2.3 -2.3M412.5 175.6l2.3 2.3M412.5 177.9l2.3 -2.3M412.6 177l2.3 2.3M412.6 179.3l2.3 -2.3M412.7 175.3l2.3 2.3M412.7 177.6l2.3 -2.3M412.8 177.3l2.3 2.3M412.8 179.6l2.3 -2.3M413 175.9l2.3 2.3M413 178.2l2.3 -2.3M413.1 179.4l2.3 2.3M413.1 181.7l2.3 -2.3M413.2 179l2.3 2.3M413.2 181.3l2.3 -2.3M413.3 177.3l2.3 2.3M413.3 179.6l2.3 -2.3M413.5 178.6l2.3 2.3M413.5 180.9l2.3 -2.3M413.6 180.3l2.3 2.3M413.6 182.6l2.3 -2.3M413.7 179.8l2.3 2.3M413.7 182.1l2.3 -2.3M413.8 182.5l2.3 2.3M413.8 184.8l2.3 -2.3M414 180.5l2.3 2.3M414 182.8l2.3 -2.3M414.1 178.6l2.3 2.3M414.1 180.9l2.3 -2.3M414.2 182.2l2.3 2.3M414.2 184.5l2.3 -2.3M414.3 180.4l2.3 2.3M414.3 182.7l2.3 -2.3M414.5 182.9l2.3 2.3M414.5 185.2l2.3 -2.3M414.6 184.2l2.3 2.3M414.6 186.5l2.3 -2.3M414.7 182.4l2.3 2.3M414.7 184.7l2.3 -2.3M414.8 182.5l2.3 2.3M414.8 184.8l2.3 -2.3M415 184.3l2.3 2.3M415 186.6l2.3 -2.3M415.1 185.6l2.3 2.3M415.1 187.9l2.3 -2.3M415.2 186.6l2.3 2.3M415.2 188.9l2.3 -2.3M415.3 185.1l2.3 2.3M415.3 187.4l2.3 -2.3M415.4 184.2l2.3 2.3M415.4 186.5l2.3 -2.3M415.6 185.6l2.3 2.3M415.6 187.9l2.3 -2.3M415.7 190.7l2.3 2.3M415.7 193l2.3 -2.3M415.8 187.4l2.3 2.3M415.8 189.7l2.3 -2.3M415.9 186l2.3 2.3M415.9 188.3l2.3 -2.3M416 187.3l2.3 2.3M416 189.6l2.3 -2.3M416.2 189.9l2.3 2.3M416.2 192.2l2.3 -2.3M416.3 188.7l2.3 2.3M416.3 191l2.3 -2.3M416.4 188.8l2.3 2.3M416.4 191.1l2.3 -2.3M416.5 189.6l2.3 2.3M416.5 191.9l2.3 -2.3M416.6 189.9l2.3 2.3M416.6 192.2l2.3 -2.3M416.8 186.7l2.3 2.3M416.8 189l2.3 -2.3M416.9 186.9l2.3 2.3M416.9 189.2l2.3 -2.3M417 190.9l2.3 2.3M417 193.2l2.3 -2.3M417.1 189.4l2.3 2.3M417.1 191.7l2.3 -2.3M417.2 194.6l2.3 2.3M417.2 196.9l2.3 -2.3M417.3 192.1l2.3 2.3M417.3 194.4l2.3 -2.3M417.5 188.7l2.3 2.3M417.5 191l2.3 -2.3M417.6 191.2l2.3 2.3M417.6 193.5l2.3 -2.3M417.7 191.9l2.3 2.3M417.7 194.2l2.3 -2.3M417.8 196.9l2.3 2.3M417.8 199.2l2.3 -2.3M417.9 193.5l2.3 2.3M417.9 195.8l2.3 -2.3M418 194l2.3 2.3M418 196.3l2.3 -2.3M418.2 196l2.3 2.3M418.2 198.3l2.3 -2.3M418.3 194.4l2.3 2.3M418.3 196.7l2.3 -2.3M418.4 194.4l2.3 2.3M418.4 196.7l2.3 -2.3M418.5 191.2l2.3 2.3M418.5 193.5l2.3 -2.3M418.6 196.1l2.3 2.3M418.6 198.4l2.3 -2.3M418.7 194.6l2.3 2.3M418.7 196.9l2.3 -2.3M418.8 194.9l2.3 2.3M418.8 197.2l2.3 -2.3M419 193.5l2.3 2.3M419 195.8l2.3 -2.3M419.1 197.9l2.3 2.3M419.1 200.2l2.3 -2.3M419.2 197l2.3 2.3M419.2 199.3l2.3 -2.3M419.3 196.1l2.3 2.3M419.3 198.4l2.3 -2.3M419.4 197.7l2.3 2.3M419.4 200l2.3 -2.3M419.5 197.6l2.3 2.3M419.5 199.9l2.3 -2.3M419.6 197.6l2.3 2.3M419.6 199.9l2.3 -2.3M419.7 203.7l2.3 2.3M419.7 206l2.3 -2.3M419.8 200.9l2.3 2.3M419.8 203.2l2.3 -2.3M420 201.8l2.3 2.3M420 204.1l2.3 -2.3M420.1 201.7l2.3 2.3M420.1 204l2.3 -2.3M420.2 205.2l2.3 2.3M420.2 207.5l2.3 -2.3M420.3 201.8l2.3 2.3M420.3 204.1l2.3 -2.3M420.4 199l2.3 2.3M420.4 201.3l2.3 -2.3M420.5 202l2.3 2.3M420.5 204.3l2.3 -2.3M420.6 200.6l2.3 2.3M420.6 202.9l2.3 -2.3M420.7 202.4l2.3 2.3M420.7 204.7l2.3 -2.3M420.8 201.2l2.3 2.3M420.8 203.5l2.3 -2.3M420.9 207.1l2.3 2.3M420.9 209.4l2.3 -2.3M421.1 203.4l2.3 2.3M421.1 205.7l2.3 -2.3M421.2 205.2l2.3 2.3M421.2 207.5l2.3 -2.3M421.3 205.2l2.3 2.3M421.3 207.5l2.3 -2.3M421.4 206.8l2.3 2.3M421.4 209.1l2.3 -2.3M421.5 203.3l2.3 2.3M421.5 205.6l2.3 -2.3M421.6 212.7l2.3 2.3M421.6 215l2.3 -2.3M421.7 212.4l2.3 2.3M421.7 214.7l2.3 -2.3M421.8 205l2.3 2.3M421.8 207.3l2.3 -2.3M421.9 204.2l2.3 2.3M421.9 206.5l2.3 -2.3M422 207.5l2.3 2.3M422 209.8l2.3 -2.3M422.1 202.5l2.3 2.3M422.1 204.8l2.3 -2.3M422.2 215.5l2.3 2.3M422.2 217.8l2.3 -2.3M422.3 211l2.3 2.3M422.3 213.3l2.3 -2.3M422.4 209.9l2.3 2.3M422.4 212.2l2.3 -2.3M422.5 208.7l2.3 2.3M422.5 211l2.3 -2.3M422.6 210.5l2.3 2.3M422.6 212.8l2.3 -2.3M422.8 211l2.3 2.3M422.8 213.3l2.3 -2.3M422.9 210.9l2.3 2.3M422.9 213.2l2.3 -2.3M423 212.7l2.3 2.3M423 215l2.3 -2.3M423.1 213.5l2.3 2.3M423.1 215.8l2.3 -2.3M423.2 213.9l2.3 2.3M423.2 216.2l2.3 -2.3M423.3 210.7l2.3 2.3M423.3 213l2.3 -2.3M423.4 216.2l2.3 2.3M423.4 218.5l2.3 -2.3M423.5 212.4l2.3 2.3M423.5 214.7l2.3 -2.3M423.6 215.2l2.3 2.3M423.6 217.5l2.3 -2.3M423.7 210.6l2.3 2.3M423.7 212.9l2.3 -2.3M423.8 214.5l2.3 2.3M423.8 216.8l2.3 -2.3M423.9 210.2l2.3 2.3M423.9 212.5l2.3 -2.3M424 216.8l2.3 2.3M424 219.1l2.3 -2.3M424.1 216.5l2.3 2.3M424.1 218.8l2.3 -2.3M424.2 215.4l2.3 2.3M424.2 217.7l2.3 -2.3M424.3 216.4l2.3 2.3M424.3 218.7l2.3 -2.3M424.4 218.1l2.3 2.3M424.4 220.4l2.3 -2.3M424.5 221.6l2.3 2.3M424.5 223.9l2.3 -2.3M424.6 217.3l2.3 2.3M424.6 219.6l2.3 -2.3M424.7 222.6l2.3 2.3M424.7 224.9l2.3 -2.3M424.8 221.1l2.3 2.3M424.8 223.4l2.3 -2.3M424.9 223.6l2.3 2.3M424.9 225.9l2.3 -2.3M425 218.3l2.3 2.3M425 220.6l2.3 -2.3M425.1 216.7l2.3 2.3M425.1 219l2.3 -2.3M425.2 227.4l2.3 2.3M425.2 229.7l2.3 -2.3M425.3 216.4l2.3 2.3M425.3 218.7l2.3 -2.3M425.4 228.9l2.3 2.3M425.4 231.2l2.3 -2.3M425.5 226.1l2.3 2.3M425.5 228.4l2.3 -2.3M425.6 220l2.3 2.3M425.6 222.3l2.3 -2.3M425.7 217.8l2.3 2.3M425.7 220.1l2.3 -2.3M425.8 234l2.3 2.3M425.8 236.3l2.3 -2.3M425.9 230.7l2.3 2.3M425.9 233l2.3 -2.3M426 218.3l2.3 2.3M426 220.6l2.3 -2.3M426.1 224.1l2.3 2.3M426.1 226.4l2.3 -2.3M426.2 230.3l2.3 2.3M426.2 232.6l2.3 -2.3M426.3 228.2l2.3 2.3M426.3 230.5l2.3 -2.3M426.4 228l2.3 2.3M426.4 230.3l2.3 -2.3M426.5 230.5l2.3 2.3M426.5 232.8l2.3 -2.3M426.6 226.7l2.3 2.3M426.6 229l2.3 -2.3M426.7 235.5l2.3 2.3M426.7 237.8l2.3 -2.3M426.8 222.1l2.3 2.3M426.8 224.4l2.3 -2.3M426.9 229.1l2.3 2.3M426.9 231.4l2.3 -2.3M427 235l2.3 2.3M427 237.3l2.3 -2.3M427.1 233.2l2.3 2.3M427.1 235.5l2.3 -2.3M427.2 223.5l2.3 2.3M427.2 225.8l2.3 -2.3M427.2 231.3l2.3 2.3M427.2 233.6l2.3 -2.3M427.3 229.9l2.3 2.3M427.3 232.2l2.3 -2.3M427.4 221.2l2.3 2.3M427.4 223.5l2.3 -2.3M427.5 236.9l2.3 2.3M427.5 239.2l2.3 -2.3M427.6 232.7l2.3 2.3M427.6 235l2.3 -2.3M427.7 237.4l2.3 2.3M427.7 239.7l2.3 -2.3M427.8 230l2.3 2.3M427.8 232.3l2.3 -2.3M427.9 236.8l2.3 2.3M427.9 239.1l2.3 -2.3M428 223.2l2.3 2.3M428 225.5l2.3 -2.3M428.1 235.3l2.3 2.3M428.1 237.6l2.3 -2.3M428.2 236l2.3 2.3M428.2 238.3l2.3 -2.3M428.3 219.6l2.3 2.3M428.3 221.9l2.3 -2.3M428.4 238.3l2.3 2.3M428.4 240.6l2.3 -2.3M428.5 239l2.3 2.3M428.5 241.3l2.3 -2.3M428.6 242.9l2.3 2.3M428.6 245.2l2.3 -2.3M428.8 237.7l2.3 2.3M428.8 240l2.3 -2.3M428.8 234.1l2.3 2.3M428.8 236.4l2.3 -2.3M428.9 236.1l2.3 2.3M428.9 238.4l2.3 -2.3M429 232.8l2.3 2.3M429 235.1l2.3 -2.3M429.1 241.1l2.3 2.3M429.1 243.4l2.3 -2.3M429.4 248.1l2.3 2.3M429.4 250.4l2.3 -2.3M429.5 240.6l2.3 2.3M429.5 242.9l2.3 -2.3M429.6 237.3l2.3 2.3M429.6 239.6l2.3 -2.3M429.7 238.2l2.3 2.3M429.7 240.5l2.3 -2.3M429.8 227.7l2.3 2.3M429.8 230l2.3 -2.3M429.9 237.9l2.3 2.3M429.9 240.2l2.3 -2.3M429.9 235.8l2.3 2.3M429.9 238.1l2.3 -2.3M430.1 239.9l2.3 2.3M430.1 242.2l2.3 -2.3M430.4 244.6l2.3 2.3M430.4 246.9l2.3 -2.3M430.5 240.1l2.3 2.3M430.5 242.4l2.3 -2.3M430.7 245.2l2.3 2.3M430.7 247.5l2.3 -2.3M430.7 249.1l2.3 2.3M430.7 251.4l2.3 -2.3M431 237.7l2.3 2.3M431 240l2.3 -2.3M431.2 239.1l2.3 2.3M431.2 241.4l2.3 -2.3M431.3 240.9l2.3 2.3M431.3 243.2l2.3 -2.3M431.5 241.8l2.3 2.3M431.5 244.1l2.3 -2.3M431.8 241.8l2.3 2.3M431.8 244.1l2.3 -2.3M432.3 241.3l2.3 2.3M432.3 243.6l2.3 -2.3M432.8 247l2.3 2.3M432.8 249.3l2.3 -2.3M433.4 238.7l2.3 2.3M433.4 241l2.3 -2.3M438 256.4l2.3 2.3M438 258.6l2.3 -2.3M438.7 256.4l2.3 2.3M438.7 258.6l2.3 -2.3M439.4 256.4l2.3 2.3M439.4 258.6l2.3 -2.3M440.1 256.4l2.3 2.3M440.1 258.6l2.3 -2.3M440.8 256.4l2.3 2.3M440.8 258.6l2.3 -2.3M441.5 256.4l2.3 2.3M441.5 258.6l2.3 -2.3M442.1 256.4l2.3 2.3M442.1 258.6l2.3 -2.3M442.8 256.4l2.3 2.3M442.8 258.6l2.3 -2.3M443.5 256.4l2.3 2.3M443.5 258.6l2.3 -2.3M444.2 256.4l2.3 2.3M444.2 258.6l2.3 -2.3M444.9 256.4l2.3 2.3M444.9 258.6l2.3 -2.3M430.2 260.5l2.3 2.3M430.2 262.8l2.3 -2.3M430.8 260.5l2.3 2.3M430.8 262.8l2.3 -2.3M431.4 260.5l2.3 2.3M431.4 262.8l2.3 -2.3M432 260.5l2.3 2.3M432 262.8l2.3 -2.3M431.2 264.2l2.3 2.3M431.2 266.5l2.3 -2.3M431.7 264.2l2.3 2.3M431.7 266.5l2.3 -2.3M432.2 264.2l2.3 2.3M432.2 266.5l2.3 -2.3M432.7 264.2l2.3 2.3M432.7 266.5l2.3 -2.3M432.2 265.4l2.3 2.3M432.2 267.6l2.3 -2.3M432.9 265.4l2.3 2.3M432.9 267.6l2.3 -2.3M434.2 244.3l2.3 2.3M434.2 246.7l2.3 -2.3M434.9 244.3l2.3 2.3M434.9 246.7l2.3 -2.3M435.6 244.3l2.3 2.3M435.6 246.7l2.3 -2.3M436.3 244.3l2.3 2.3M436.3 246.7l2.3 -2.3M437 244.3l2.3 2.3M437 246.7l2.3 -2.3M437.7 244.3l2.3 2.3M437.7 246.7l2.3 -2.3M424.8 240.3l2.3 2.3M424.8 242.7l2.3 -2.3M163.3 249.3l2.3 2.3M163.3 251.7l2.3 -2.3" stroke="#0f0" stroke-width="0.7" fill="none"/>
<path d="M158.9 31.1h2.8M160.3 29.7v2.8M182 35.5h2.8M183.4 34.1v2.8M193.5 38h2.8M194.9 36.6v2.8M205.4 39.9h2.8M206.8 38.5v2.8M213.4 43h2.8M214.8 41.6v2.8M216.4 42.8h2.8M217.8 41.4v2.8M228.6 44.2h2.8M230 42.8v2.8M227.7 45.5h2.8M229.1 44.1v2.8M233.5 46.5h2.8M234.9 45.1v2.8M238.8 47.3h2.8M240.2 45.9v2.8M243.5 49.4h2.8M244.9 48v2.8M247.8 50.2h2.8M249.2 48.8v2.8M251.8 52.8h2.8M253.2 51.4v2.8M255.5 54.5h2.8M256.9 53.1v2.8M258.9 53h2.8M260.3 51.6v2.8M262.1 55h2.8M263.5 53.6v2.8M265.1 55.9h2.8M266.5 54.5v2.8M268 55.3h2.8M269.4 53.9v2.8M270.6 56.7h2.8M272 55.3v2.8M273.2 58.1h2.8M274.6 56.7v2.8M275.6 58.4h2.8M277 57v2.8M277.9 58.9h2.8M279.3 57.5v2.8M280.1 60.5h2.8M281.5 59.1v2.8M282.2 60.4h2.8M283.6 59v2.8M284.3 61.2h2.8M285.7 59.8v2.8M286.2 61.2h2.8M287.6 59.8v2.8M288.1 60.5h2.8M289.5 59.1v2.8M289.9 62.8h2.8M291.3 61.4v2.8M291.6 64.5h2.8M293 63.1v2.8M293.3 64.6h2.8M294.7 63.2v2.8M295 65.7h2.8M296.4 64.3v2.8M296.5 65.1h2.8M297.9 63.7v2.8M298.1 68.3h2.8M299.5 66.9v2.8M299.5 66.7h2.8M300.9 65.3v2.8M301 68h2.8M302.4 66.6v2.8M302.4 68.9h2.8M303.8 67.5v2.8M303.7 68.3h2.8M305.1 66.9v2.8M305.1 68h2.8M306.5 66.6v2.8M306.4 68.8h2.8M307.8 67.4v2.8M307.6 69.7h2.8M309 68.3v2.8M308.8 71.1h2.8M310.2 69.7v2.8M310 70.1h2.8M311.4 68.7v2.8M311.2 70.7h2.8M312.6 69.3v2.8M312.3 71.6h2.8M313.7 70.2v2.8M313.5 71.5h2.8M314.9 70.1v2.8M314.6 72.4h2.8M316 71v2.8M315.6 72.4h2.8M317 71v2.8M316.7 72.3h2.8M318.1 70.9v2.8M317.7 73.5h2.8M319.1 72.1v2.8M318.7 73.3h2.8M320.1 71.9v2.8M319.7 73.7h2.8M321.1 72.3v2.8M320.6 75h2.8M322 73.6v2.8M321.6 75.8h2.8M323 74.4v2.8M322.5 75.2h2.8M323.9 73.8v2.8M323.4 76h2.8M324.8 74.6v2.8M324.3 76.7h2.8M325.7 75.3v2.8M325.2 76h2.8M326.6 74.6v2.8M326.1 77.3h2.8M327.5 75.9v2.8M326.9 77.6h2.8M328.3 76.2v2.8M327.7 77.5h2.8M329.1 76.1v2.8M328.6 79.4h2.8M330 78v2.8M329.4 78.4h2.8M330.8 77v2.8M330.2 78.5h2.8M331.6 77.1v2.8M331 79.7h2.8M332.4 78.3v2.8M331.7 80.6h2.8M333.1 79.2v2.8M332.5 80.2h2.8M333.9 78.8v2.8M333.2 81.9h2.8M334.6 80.5v2.8M334 81.5h2.8M335.4 80.1v2.8M334.7 82.1h2.8M336.1 80.7v2.8M335.4 82.5h2.8M336.8 81.1v2.8M336.1 82.6h2.8M337.5 81.2v2.8M336.8 83h2.8M338.2 81.6v2.8M337.5 83.4h2.8M338.9 82v2.8M338.2 83.9h2.8M339.6 82.5v2.8M338.8 84.8h2.8M340.2 83.4v2.8M339.5 84.9h2.8M340.9 83.5v2.8M340.1 85.3h2.8M341.5 83.9v2.8M340.8 85.5h2.8M342.2 84.1v2.8M341.4 85.4h2.8M342.8 84v2.8M342 86.7h2.8M343.4 85.3v2.8M342.6 86.7h2.8M344 85.3v2.8M343.3 86.6h2.8M344.7 85.2v2.8M343.9 87.5h2.8M345.3 86.1v2.8M344.5 87.3h2.8M345.9 85.9v2.8M345 88.4h2.8M346.4 87v2.8M345.6 89h2.8M347 87.6v2.8M346.2 89.6h2.8M347.6 88.2v2.8M346.8 88.9h2.8M348.2 87.5v2.8M347.3 89.3h2.8M348.7 87.9v2.8M347.9 89.2h2.8M349.3 87.8v2.8M348.4 89.5h2.8M349.8 88.1v2.8M349 90.4h2.8M350.4 89v2.8M349.5 90.3h2.8M350.9 88.9v2.8M350 90.6h2.8M351.4 89.2v2.8M350.6 91h2.8M352 89.6v2.8M351.1 92.2h2.8M352.5 90.8v2.8M351.6 92.2h2.8M353 90.8v2.8M352.1 92h2.8M353.5 90.6v2.8M352.6 92.6h2.8M354 91.2v2.8M353.1 93.6h2.8M354.5 92.2v2.8M353.6 93.8h2.8M355 92.4v2.8M354.1 93.9h2.8M355.5 92.5v2.8M354.6 94.4h2.8M356 93v2.8M355.1 94.5h2.8M356.5 93.1v2.8M355.5 95h2.8M356.9 93.6v2.8M356 95.6h2.8M357.4 94.2v2.8M356.5 95.8h2.8M357.9 94.4v2.8M356.9 95.3h2.8M358.3 93.9v2.8M357.4 95.5h2.8M358.8 94.1v2.8M357.8 96.7h2.8M359.2 95.3v2.8M358.3 96.9h2.8M359.7 95.5v2.8M358.7 96.8h2.8M360.1 95.4v2.8M359.2 97.8h2.8M360.6 96.4v2.8M359.6 97.5h2.8M361 96.1v2.8M360 97.8h2.8M361.4 96.4v2.8M360.5 98.3h2.8M361.9 96.9v2.8M360.9 99.5h2.8M362.3 98.1v2.8M361.3 98.4h2.8M362.7 97v2.8M361.7 99.5h2.8M363.1 98.1v2.8M362.2 100h2.8M363.6 98.6v2.8M362.6 100.5h2.8M364 99.1v2.8M363 100.5h2.8M364.4 99.1v2.8M363.4 100.5h2.8M364.8 99.1v2.8M363.8 100.5h2.8M365.2 99.1v2.8M364.2 101h2.8M365.6 99.6v2.8M364.6 101.9h2.8M366 100.5v2.8M365 101.9h2.8M366.4 100.5v2.8M365.4 101.5h2.8M366.8 100.1v2.8M365.8 102.7h2.8M367.2 101.3v2.8M366.1 102.3h2.8M367.5 100.9v2.8M366.5 103.2h2.8M367.9 101.8v2.8M366.9 103.9h2.8M368.3 102.5v2.8M367.3 104.7h2.8M368.7 103.3v2.8M367.6 103.8h2.8M369 102.4v2.8M368 103.9h2.8M369.4 102.5v2.8M368.4 103.8h2.8M369.8 102.4v2.8M368.7 105.1h2.8M370.1 103.7v2.8M369.1 105.1h2.8M370.5 103.7v2.8M369.5 105.3h2.8M370.9 103.9v2.8M369.8 105h2.8M371.2 103.6v2.8M370.2 105.8h2.8M371.6 104.4v2.8M370.5 106.7h2.8M371.9 105.3v2.8M370.9 107h2.8M372.3 105.6v2.8M371.2 107h2.8M372.6 105.6v2.8M371.6 107.2h2.8M373 105.8v2.8M371.9 106.9h2.8M373.3 105.5v2.8M372.2 108.6h2.8M373.6 107.2v2.8M372.6 108.3h2.8M374 106.9v2.8M372.9 108.6h2.8M374.3 107.2v2.8M373.2 109.2h2.8M374.6 107.8v2.8M373.6 109.5h2.8M375 108.1v2.8M373.9 109.9h2.8M375.3 108.5v2.8M374.2 109.4h2.8M375.6 108v2.8M374.6 110.7h2.8M376 109.3v2.8M374.9 110.7h2.8M376.3 109.3v2.8M375.2 110.9h2.8M376.6 109.5v2.8M375.5 112.4h2.8M376.9 111v2.8M375.8 112.3h2.8M377.2 110.9v2.8M376.1 112.9h2.8M377.5 111.5v2.8M376.4 112.3h2.8M377.8 110.9v2.8M376.8 113.5h2.8M378.2 112.1v2.8M377.1 113h2.8M378.5 111.6v2.8M377.4 112.8h2.8M378.8 111.4v2.8M377.7 114.3h2.8M379.1 112.9v2.8M378 114.6h2.8M379.4 113.2v2.8M378.3 114.9h2.8M379.7 113.5v2.8M378.6 115.7h2.8M380 114.3v2.8M378.9 115.5h2.8M380.3 114.1v2.8M379.2 116.2h2.8M380.6 114.8v2.8M379.5 116.3h2.8M380.9 114.9v2.8M379.7 116.5h2.8M381.1 115.1v2.8M380 116.8h2.8M381.4 115.4v2.8M380.3 117.5h2.8M381.7 116.1v2.8M380.6 117.4h2.8M382 116v2.8M380.9 118.1h2.8M382.3 116.7v2.8M381.2 118.3h2.8M382.6 116.9v2.8M381.5 118.5h2.8M382.9 117.1v2.8M381.7 118.5h2.8M383.1 117.1v2.8M382 118.4h2.8M383.4 117v2.8M382.3 119.2h2.8M383.7 117.8v2.8M382.6 120h2.8M384 118.6v2.8M382.8 120.2h2.8M384.2 118.8v2.8M383.1 120.1h2.8M384.5 118.7v2.8M383.4 121.3h2.8M384.8 119.9v2.8M383.7 120.2h2.8M385.1 118.8v2.8M383.9 122h2.8M385.3 120.6v2.8M384.2 121h2.8M385.6 119.6v2.8M384.5 122.2h2.8M385.9 120.8v2.8M384.7 121.9h2.8M386.1 120.5v2.8M385 123h2.8M386.4 121.6v2.8M385.2 123.5h2.8M386.6 122.1v2.8M385.5 123.3h2.8M386.9 121.9v2.8M385.8 123.3h2.8M387.2 121.9v2.8M386 123.2h2.8M387.4 121.8v2.8M386.3 123.5h2.8M387.7 122.1v2.8M386.5 124.5h2.8M387.9 123.1v2.8M386.8 125.1h2.8M388.2 123.7v2.8M387 125h2.8M388.4 123.6v2.8M387.3 125.1h2.8M388.7 123.7v2.8M387.5 126.1h2.8M388.9 124.7v2.8M387.8 126.1h2.8M389.2 124.7v2.8M388 126.4h2.8M389.4 125v2.8M388.3 126.6h2.8M389.7 125.2v2.8M388.5 126.2h2.8M389.9 124.8v2.8M388.8 126.7h2.8M390.2 125.3v2.8M389 128.1h2.8M390.4 126.7v2.8M389.2 127.7h2.8M390.6 126.3v2.8M389.5 128.6h2.8M390.9 127.2v2.8M389.7 127.8h2.8M391.1 126.4v2.8M390 128.8h2.8M391.4 127.4v2.8M390.2 129.8h2.8M391.6 128.4v2.8M390.4 129.6h2.8M391.8 128.2v2.8M390.7 130.3h2.8M392.1 128.9v2.8M390.9 131h2.8M392.3 129.6v2.8M391.1 130.7h2.8M392.5 129.3v2.8M391.3 130.4h2.8M392.7 129v2.8M391.6 131.5h2.8M393 130.1v2.8M391.8 131.9h2.8M393.2 130.5v2.8M392 131.8h2.8M393.4 130.4v2.8M392.3 133.3h2.8M393.7 131.9v2.8M392.5 133h2.8M393.9 131.6v2.8M392.7 133.2h2.8M394.1 131.8v2.8M392.9 134.7h2.8M394.3 133.3v2.8M393.2 134.3h2.8M394.6 132.9v2.8M393.4 134.2h2.8M394.8 132.8v2.8M393.6 135.3h2.8M395 133.9v2.8M393.8 135.8h2.8M395.2 134.4v2.8M394 136h2.8M395.4 134.6v2.8M394.3 135.9h2.8M395.7 134.5v2.8M394.5 136.7h2.8M395.9 135.3v2.8M394.7 136.5h2.8M396.1 135.1v2.8M394.9 137.8h2.8M396.3 136.4v2.8M395.1 137.8h2.8M396.5 136.4v2.8M395.3 137.9h2.8M396.7 136.5v2.8M395.5 138.4h2.8M396.9 137v2.8M395.7 139.3h2.8M397.1 137.9v2.8M396 139.4h2.8M397.4 138v2.8M396.2 139.3h2.8M397.6 137.9v2.8M396.4 139.9h2.8M397.8 138.5v2.8M396.6 140.4h2.8M398 139v2.8M396.8 140.2h2.8M398.2 138.8v2.8M397 140.6h2.8M398.4 139.2v2.8M397.2 141.1h2.8M398.6 139.7v2.8M397.4 142h2.8M398.8 140.6v2.8M397.6 142.1h2.8M399 140.7v2.8M397.8 142.1h2.8M399.2 140.7v2.8M398 142.3h2.8M399.4 140.9v2.8M398.2 142.8h2.8M399.6 141.4v2.8M398.4 143.7h2.8M399.8 142.3v2.8M398.6 143.7h2.8M400 142.3v2.8M398.8 144.3h2.8M400.2 142.9v2.8M399 143.8h2.8M400.4 142.4v2.8M399.2 144.2h2.8M400.6 142.8v2.8M399.4 144.6h2.8M400.8 143.2v2.8M399.6 144.9h2.8M401 143.5v2.8M399.8 146.3h2.8M401.2 144.9v2.8M400 146.6h2.8M401.4 145.2v2.8M400.2 145.6h2.8M401.6 144.2v2.8M400.4 147h2.8M401.8 145.6v2.8M400.6 145.9h2.8M402 144.5v2.8M400.7 147.2h2.8M402.1 145.8v2.8M400.9 147.6h2.8M402.3 146.2v2.8M401.1 147.7h2.8M402.5 146.3v2.8M401.3 149.2h2.8M402.7 147.8v2.8M401.5 148.4h2.8M402.9 147v2.8M401.7 149.6h2.8M403.1 148.2v2.8M401.9 149h2.8M403.3 147.6v2.8M402.1 149.8h2.8M403.5 148.4v2.8M402.2 150.9h2.8M403.6 149.5v2.8M402.4 151.1h2.8M403.8 149.7v2.8M402.6 151.5h2.8M404 150.1v2.8M402.8 151.4h2.8M404.2 150v2.8M403 151.5h2.8M404.4 150.1v2.8M403.2 151.3h2.8M404.6 149.9v2.8M403.3 152.6h2.8M404.7 151.2v2.8M403.5 153.1h2.8M404.9 151.7v2.8M403.7 152.9h2.8M405.1 151.5v2.8M403.9 153.7h2.8M405.3 152.3v2.8M404.1 155.1h2.8M405.5 153.7v2.8M404.2 154h2.8M405.6 152.6v2.8M404.4 154.8h2.8M405.8 153.4v2.8M404.6 155.1h2.8M406 153.7v2.8M404.8 155.5h2.8M406.2 154.1v2.8M404.9 156.5h2.8M406.3 155.1v2.8M405.1 157.6h2.8M406.5 156.2v2.8M405.3 156.7h2.8M406.7 155.3v2.8M405.5 157.8h2.8M406.9 156.4v2.8M405.6 157.4h2.8M407 156v2.8M405.8 158.1h2.8M407.2 156.7v2.8M406 158.9h2.8M407.4 157.5v2.8M406.1 158.8h2.8M407.5 157.4v2.8M406.3 158.5h2.8M407.7 157.1v2.8M406.5 159.8h2.8M407.9 158.4v2.8M406.7 159.5h2.8M408.1 158.1v2.8M406.8 160.9h2.8M408.2 159.5v2.8M407 161.4h2.8M408.4 160v2.8M407.2 160h2.8M408.6 158.6v2.8M407.3 161.9h2.8M408.7 160.5v2.8M407.5 161.2h2.8M408.9 159.8v2.8M407.7 162.7h2.8M409.1 161.3v2.8M407.8 162.2h2.8M409.2 160.8v2.8M408 163.6h2.8M409.4 162.2v2.8M408.2 163.5h2.8M409.6 162.1v2.8M408.3 165h2.8M409.7 163.6v2.8M408.5 165.3h2.8M409.9 163.9v2.8M408.6 164.8h2.8M410 163.4v2.8M408.8 165.2h2.8M410.2 163.8v2.8M409 165.6h2.8M410.4 164.2v2.8M409.1 167.4h2.8M410.5 166v2.8M409.3 167.6h2.8M410.7 166.2v2.8M409.4 167.1h2.8M410.8 165.7v2.8M409.6 168.5h2.8M411 167.1v2.8M409.8 168.5h2.8M411.2 167.1v2.8M409.9 170.5h2.8M411.3 169.1v2.8M410.1 168.9h2.8M411.5 167.5v2.8M410.2 169.2h2.8M411.6 167.8v2.8M410.4 170.6h2.8M411.8 169.2v2.8M410.6 171h2.8M412 169.6v2.8M410.7 170.6h2.8M412.1 169.2v2.8M410.9 172.1h2.8M412.3 170.7v2.8M411 172.6h2.8M412.4 171.2v2.8M411.2 173h2.8M412.6 171.6v2.8M411.3 170.2h2.8M412.7 168.8v2.8M411.5 173.1h2.8M412.9 171.7v2.8M411.6 172.7h2.8M413 171.3v2.8M411.8 175h2.8M413.2 173.6v2.8M411.9 174.7h2.8M413.3 173.3v2.8M412.1 174.9h2.8M413.5 173.5v2.8M412.2 175.8h2.8M413.6 174.4v2.8M412.4 175.1h2.8M413.8 173.7v2.8M412.5 175.6h2.8M413.9 174.2v2.8M412.7 174.4h2.8M414.1 173v2.8M412.8 176.1h2.8M414.2 174.7v2.8M413 175.7h2.8M414.4 174.3v2.8M413.1 177.1h2.8M414.5 175.7v2.8M413.3 177.9h2.8M414.7 176.5v2.8M413.4 178.3h2.8M414.8 176.9v2.8M413.6 179.8h2.8M415 178.4v2.8M413.7 179.9h2.8M415.1 178.5v2.8M413.9 180.2h2.8M415.3 178.8v2.8M414 179.9h2.8M415.4 178.5v2.8M414.2 179.5h2.8M415.6 178.1v2.8M414.3 180.1h2.8M415.7 178.7v2.8M414.5 182.8h2.8M415.9 181.4v2.8M414.6 183.8h2.8M416 182.4v2.8M414.7 182h2.8M416.1 180.6v2.8M414.9 181.7h2.8M416.3 180.3v2.8M415 183h2.8M416.4 181.6v2.8M415.2 185.1h2.8M416.6 183.7v2.8M415.3 184.7h2.8M416.7 183.3v2.8M415.5 182.5h2.8M416.9 181.1v2.8M415.6 185h2.8M417 183.6v2.8M415.7 186.3h2.8M417.1 184.9v2.8M415.9 185.9h2.8M417.3 184.5v2.8M416 186.7h2.8M417.4 185.3v2.8M416.2 184.9h2.8M417.6 183.5v2.8M416.3 185.1h2.8M417.7 183.7v2.8M416.4 186.6h2.8M417.8 185.2v2.8M416.6 187.9h2.8M418 186.5v2.8M416.7 187.4h2.8M418.1 186v2.8M416.9 189h2.8M418.3 187.6v2.8M417 189h2.8M418.4 187.6v2.8M417.1 189h2.8M418.5 187.6v2.8M417.3 186.7h2.8M418.7 185.3v2.8M417.4 191.1h2.8M418.8 189.7v2.8M417.5 189.2h2.8M418.9 187.8v2.8M417.7 191.6h2.8M419.1 190.2v2.8M417.8 193.2h2.8M419.2 191.8v2.8M417.9 192.3h2.8M419.3 190.9v2.8M418.1 193.7h2.8M419.5 192.3v2.8M418.2 195.1h2.8M419.6 193.7v2.8M418.3 192.5h2.8M419.7 191.1v2.8M418.5 195.1h2.8M419.9 193.7v2.8M418.6 195h2.8M420 193.6v2.8M418.7 193.3h2.8M420.1 191.9v2.8M418.9 195.2h2.8M420.3 193.8v2.8M419 195.1h2.8M420.4 193.7v2.8M419.1 197.5h2.8M420.5 196.1v2.8M419.3 194.6h2.8M420.7 193.2v2.8M419.4 196.3h2.8M420.8 194.9v2.8M419.5 195.7h2.8M420.9 194.3v2.8M419.7 199.9h2.8M421.1 198.5v2.8M419.8 200.3h2.8M421.2 198.9v2.8M419.9 195.1h2.8M421.3 193.7v2.8M420 200.9h2.8M421.4 199.5v2.8M420.2 195.2h2.8M421.6 193.8v2.8M420.3 201.6h2.8M421.7 200.2v2.8M420.4 199.8h2.8M421.8 198.4v2.8M420.6 199.8h2.8M422 198.4v2.8M420.7 200.4h2.8M422.1 199v2.8M420.8 199.9h2.8M422.2 198.5v2.8M420.9 199.7h2.8M422.3 198.3v2.8M421.1 202.4h2.8M422.5 201v2.8M421.2 205.3h2.8M422.6 203.9v2.8M421.3 203.1h2.8M422.7 201.7v2.8M421.4 201.6h2.8M422.8 200.2v2.8M421.6 202.7h2.8M423 201.3v2.8M421.7 197.7h2.8M423.1 196.3v2.8M421.8 206.7h2.8M423.2 205.3v2.8M421.9 201.2h2.8M423.3 199.8v2.8M422.1 198.9h2.8M423.5 197.5v2.8M422.2 207.6h2.8M423.6 206.2v2.8M422.3 202.6h2.8M423.7 201.2v2.8M422.4 207.2h2.8M423.8 205.8v2.8M422.6 212.5h2.8M424 211.1v2.8M422.7 206.7h2.8M424.1 205.3v2.8M422.8 215.3h2.8M424.2 213.9v2.8M422.9 215.5h2.8M424.3 214.1v2.8M423.1 212.2h2.8M424.5 210.8v2.8M423.2 210.7h2.8M424.6 209.3v2.8M423.3 208.4h2.8M424.7 207v2.8M423.4 206.1h2.8M424.8 204.7v2.8M423.5 207.6h2.8M424.9 206.2v2.8M423.7 211.5h2.8M425.1 210.1v2.8M423.8 212.4h2.8M425.2 211v2.8M423.9 211h2.8M425.3 209.6v2.8M424 209.2h2.8M425.4 207.8v2.8M424.1 210.9h2.8M425.5 209.5v2.8M424.2 226h2.8M425.6 224.6v2.8M424.4 210.9h2.8M425.8 209.5v2.8M424.5 217.4h2.8M425.9 216v2.8M424.6 217.3h2.8M426 215.9v2.8M424.7 217.9h2.8M426.1 216.5v2.8M424.8 219.7h2.8M426.2 218.3v2.8M425 213.4h2.8M426.4 212v2.8M425.1 213.3h2.8M426.5 211.9v2.8M425.2 219.7h2.8M426.6 218.3v2.8M425.3 220.5h2.8M426.7 219.1v2.8M425.4 222.6h2.8M426.8 221.2v2.8M425.5 217.6h2.8M426.9 216.2v2.8M425.7 218.2h2.8M427.1 216.8v2.8M425.8 224.7h2.8M427.2 223.3v2.8M425.9 214.4h2.8M427.3 213v2.8M426 219.1h2.8M427.4 217.7v2.8M426.1 216.7h2.8M427.5 215.3v2.8M426.2 214.3h2.8M427.6 212.9v2.8M426.3 214.5h2.8M427.7 213.1v2.8M426.5 228.2h2.8M427.9 226.8v2.8M426.6 218.4h2.8M428 217v2.8M426.7 211.1h2.8M428.1 209.7v2.8M426.8 219h2.8M428.2 217.6v2.8M426.9 220.9h2.8M428.3 219.5v2.8M427 224.7h2.8M428.4 223.3v2.8M427.1 213.9h2.8M428.5 212.5v2.8M427.2 225.5h2.8M428.6 224.1v2.8M427.4 222.5h2.8M428.8 221.1v2.8M427.5 227.9h2.8M428.9 226.5v2.8M427.6 232.3h2.8M429 230.9v2.8M427.7 229.7h2.8M429.1 228.3v2.8M427.8 225.4h2.8M429.2 224v2.8M427.9 222.6h2.8M429.3 221.2v2.8M428 222.6h2.8M429.4 221.2v2.8M428.1 238.4h2.8M429.5 237v2.8M428.2 233.9h2.8M429.6 232.5v2.8M428.3 212.1h2.8M429.7 210.7v2.8M428.5 232.6h2.8M429.9 231.2v2.8M428.6 231h2.8M430 229.6v2.8M428.7 230.3h2.8M430.1 228.9v2.8M428.8 222.4h2.8M430.2 221v2.8M428.9 230.2h2.8M430.3 228.8v2.8M429 227h2.8M430.4 225.6v2.8M429.1 235.5h2.8M430.5 234.1v2.8M429.2 233.8h2.8M430.6 232.4v2.8M429.3 223h2.8M430.7 221.6v2.8M429.4 227h2.8M430.8 225.6v2.8M429.5 236h2.8M430.9 234.6v2.8M429.6 240.9h2.8M431 239.5v2.8M429.7 228h2.8M431.1 226.6v2.8M429.8 237.4h2.8M431.2 236v2.8M430 241.8h2.8M431.4 240.4v2.8M430.1 228.4h2.8M431.5 227v2.8M430.2 244h2.8M431.6 242.6v2.8M430.3 238.6h2.8M431.7 237.2v2.8M430.4 230.6h2.8M431.8 229.2v2.8M430.5 239.3h2.8M431.9 237.9v2.8M430.6 241.3h2.8M432 239.9v2.8M430.7 248.2h2.8M432.1 246.8v2.8M430.8 241h2.8M432.2 239.6v2.8M430.9 237.7h2.8M432.3 236.3v2.8M431 222.7h2.8M432.4 221.3v2.8M431.1 238.1h2.8M432.5 236.7v2.8M431.2 230.8h2.8M432.6 229.4v2.8M431.3 241.1h2.8M432.7 239.7v2.8M431.4 239h2.8M432.8 237.6v2.8M431.5 237.9h2.8M432.9 236.5v2.8M431.6 239.2h2.8M433 237.8v2.8M431.7 241.8h2.8M433.1 240.4v2.8M432 246.1h2.8M433.4 244.7v2.8M432.1 243.6h2.8M433.5 242.2v2.8M432.3 236.9h2.8M433.7 235.5v2.8M432.6 252.8h2.8M434 251.4v2.8M432.7 241.2h2.8M434.1 239.8v2.8M432.9 240.3h2.8M434.3 238.9v2.8M433.1 242.1h2.8M434.5 240.7v2.8M433.4 245.8h2.8M434.8 244.4v2.8M433.7 246.4h2.8M435.1 245v2.8M434 251.6h2.8M435.4 250.2v2.8M434.2 239.2h2.8M435.6 237.8v2.8M434.4 240.8h2.8M435.8 239.4v2.8M425.5 218.3h2.8M426.9 216.9v2.8M425.7 218.9h2.8M427.1 217.5v2.8M425.8 219.5h2.8M427.2 218.1v2.8M425.9 220.1h2.8M427.3 218.7v2.8M426.2 220.7h2.8M427.6 219.3v2.8M426.5 221.3h2.8M427.9 219.9v2.8M427 221.9h2.8M428.4 220.5v2.8M427.2 222.5h2.8M428.6 221.1v2.8M426.1 223.1h2.8M427.5 221.7v2.8M426 223.7h2.8M427.4 222.3v2.8M426.8 224.3h2.8M428.2 222.9v2.8M426.9 224.9h2.8M428.3 223.5v2.8M427.6 225.5h2.8M429 224.1v2.8M428.6 226.1h2.8M430 224.7v2.8M425.9 226.7h2.8M427.3 225.3v2.8M426 227.3h2.8M427.4 225.9v2.8M427.7 227.9h2.8M429.1 226.5v2.8M428.3 228.5h2.8M429.7 227.1v2.8M428.7 229.1h2.8M430.1 227.7v2.8M429.4 229.7h2.8M430.8 228.3v2.8M429.4 230.3h2.8M430.8 228.9v2.8M427.9 230.9h2.8M429.3 229.5v2.8M428.6 231.5h2.8M430 230.1v2.8M429.1 232.1h2.8M430.5 230.7v2.8M428.5 232.7h2.8M429.9 231.3v2.8M428.7 233.3h2.8M430.1 231.9v2.8M427.9 233.9h2.8M429.3 232.5v2.8M430.8 234.5h2.8M432.2 233.1v2.8M430.9 235.1h2.8M432.3 233.7v2.8M428.8 235.7h2.8M430.2 234.3v2.8M429 236.3h2.8M430.4 234.9v2.8M430.1 236.9h2.8M431.5 235.5v2.8M430.1 237.5h2.8M431.5 236.1v2.8M429.1 238.1h2.8M430.5 236.7v2.8M428.9 238.7h2.8M430.3 237.3v2.8M431.8 239.3h2.8M433.2 237.9v2.8M430.9 239.9h2.8M432.3 238.5v2.8M432.2 240.5h2.8M433.6 239.1v2.8M432.6 241.1h2.8M434 239.7v2.8M430.8 241.7h2.8M432.2 240.3v2.8M429.6 242.3h2.8M431 240.9v2.8M433 242.9h2.8M434.4 241.5v2.8M431.5 243.5h2.8M432.9 242.1v2.8M432 244.1h2.8M433.4 242.7v2.8M430.5 244.7h2.8M431.9 243.3v2.8M432.6 245.3h2.8M434 243.9v2.8M430.4 245.9h2.8M431.8 244.5v2.8M430.4 246.5h2.8M431.8 245.1v2.8M430.6 247.1h2.8M432 245.7v2.8M432.2 247.7h2.8M433.6 246.3v2.8M431.5 248.3h2.8M432.9 246.9v2.8M429.9 248.9h2.8M431.3 247.5v2.8M432.5 249.5h2.8M433.9 248.1v2.8M433.4 250.1h2.8M434.8 248.7v2.8M431.6 250.7h2.8M433 249.3v2.8M431.6 251.3h2.8M433 249.9v2.8M431 251.9h2.8M432.4 250.5v2.8M432.6 252.5h2.8M434 251.1v2.8M431.1 253.1h2.8M432.5 251.7v2.8M432.6 254.7h2.8M434 253.3v2.8M433.2 254.7h2.8M434.6 253.3v2.8M433.8 254.7h2.8M435.2 253.3v2.8M434.4 254.7h2.8M435.8 253.3v2.8M435.1 254.7h2.8M436.4 253.3v2.8M434.2 258.5h2.8M435.6 257.1v2.8M434.9 258.5h2.8M436.2 257.1v2.8M435.6 258.5h2.8M436.9 257.1v2.8M436.2 258.5h2.8M437.6 257.1v2.8M438 262.6h2.8M439.4 261.2v2.8M438.7 262.6h2.8M440.1 261.2v2.8M439.4 262.6h2.8M440.8 261.2v2.8M440.1 262.6h2.8M441.4 261.2v2.8M440.8 262.6h2.8M442.2 261.2v2.8M441.5 262.6h2.8M442.9 261.2v2.8M442.2 262.6h2.8M443.6 261.2v2.8M442.9 262.6h2.8M444.2 261.2v2.8M443.6 262.6h2.8M444.9 261.2v2.8M444.2 262.6h2.8M445.6 261.2v2.8M445 262.6h2.8M446.4 261.2v2.8M445.7 262.6h2.8M447.1 261.2v2.8M446.4 262.6h2.8M447.8 261.2v2.8M447.1 262.6h2.8M448.4 261.2v2.8M436 266.5h2.8M437.4 265.1v2.8M436.6 266.5h2.8M438 265.1v2.8M437.3 266.5h2.8M438.7 265.1v2.8M437.9 266.5h2.8M439.3 265.1v2.8M438.6 266.5h2.8M439.9 265.1v2.8M439.2 266.5h2.8M440.6 265.1v2.8M439.9 266.5h2.8M441.2 265.1v2.8M440.5 266.5h2.8M441.9 265.1v2.8M441.2 266.5h2.8M442.6 265.1v2.8M441.8 266.5h2.8M443.2 265.1v2.8M442.4 266.5h2.8M443.8 265.1v2.8M443.1 266.5h2.8M444.5 265.1v2.8M443.8 266.5h2.8M445.1 265.1v2.8M438 270.5h2.8M439.4 269.1v2.8M438.5 270.5h2.8M439.9 269.1v2.8M438.9 270.5h2.8M440.3 269.1v2.8M163.1 267.4h2.8M164.5 266v2.8M159 29.8l2.6 2.6M159 32.4l2.6 -2.6M182.1 34.2l2.6 2.6M182.1 36.8l2.6 -2.6M193.6 36.7l2.6 2.6M193.6 39.3l2.6 -2.6M205.5 38.6l2.6 2.6M205.5 41.2l2.6 -2.6M213.5 41.7l2.6 2.6M213.5 44.3l2.6 -2.6M216.5 41.5l2.6 2.6M216.5 44.1l2.6 -2.6M228.7 42.9l2.6 2.6M228.7 45.5l2.6 -2.6M227.8 44.2l2.6 2.6M227.8 46.8l2.6 -2.6M233.6 45.2l2.6 2.6M233.6 47.8l2.6 -2.6M238.9 46l2.6 2.6M238.9 48.6l2.6 -2.6M243.6 48.1l2.6 2.6M243.6 50.7l2.6 -2.6M247.9 48.9l2.6 2.6M247.9 51.5l2.6 -2.6M251.9 51.5l2.6 2.6M251.9 54.1l2.6 -2.6M255.6 53.2l2.6 2.6M255.6 55.8l2.6 -2.6M259 51.7l2.6 2.6M259 54.3l2.6 -2.6M262.2 53.7l2.6 2.6M262.2 56.3l2.6 -2.6M265.2 54.6l2.6 2.6M265.2 57.2l2.6 -2.6M268.1 54l2.6 2.6M268.1 56.6l2.6 -2.6M270.7 55.4l2.6 2.6M270.7 58l2.6 -2.6M273.3 56.8l2.6 2.6M273.3 59.4l2.6 -2.6M275.7 57.1l2.6 2.6M275.7 59.7l2.6 -2.6M278 57.6l2.6 2.6M278 60.2l2.6 -2.6M280.2 59.2l2.6 2.6M280.2 61.8l2.6 -2.6M282.3 59.1l2.6 2.6M282.3 61.7l2.6 -2.6M284.4 59.9l2.6 2.6M284.4 62.5l2.6 -2.6M286.3 59.9l2.6 2.6M286.3 62.5l2.6 -2.6M288.2 59.2l2.6 2.6M288.2 61.8l2.6 -2.6M290 61.5l2.6 2.6M290 64.1l2.6 -2.6M291.7 63.2l2.6 2.6M291.7 65.8l2.6 -2.6M293.4 63.3l2.6 2.6M293.4 65.9l2.6 -2.6M295.1 64.4l2.6 2.6M295.1 67l2.6 -2.6M296.6 63.8l2.6 2.6M296.6 66.4l2.6 -2.6M298.2 67l2.6 2.6M298.2 69.6l2.6 -2.6M299.6 65.4l2.6 2.6M299.6 68l2.6 -2.6M301.1 66.7l2.6 2.6M301.1 69.3l2.6 -2.6M302.5 67.6l2.6 2.6M302.5 70.2l2.6 -2.6M303.8 67l2.6 2.6M303.8 69.6l2.6 -2.6M305.2 66.7l2.6 2.6M305.2 69.3l2.6 -2.6M306.5 67.5l2.6 2.6M306.5 70.1l2.6 -2.6M307.7 68.4l2.6 2.6M307.7 71l2.6 -2.6M308.9 69.8l2.6 2.6M308.9 72.4l2.6 -2.6M310.1 68.8l2.6 2.6M310.1 71.4l2.6 -2.6M311.3 69.4l2.6 2.6M311.3 72l2.6 -2.6M312.4 70.3l2.6 2.6M312.4 72.9l2.6 -2.6M313.6 70.2l2.6 2.6M313.6 72.8l2.6 -2.6M314.7 71.1l2.6 2.6M314.7 73.7l2.6 -2.6M315.7 71.1l2.6 2.6M315.7 73.7l2.6 -2.6M316.8 71l2.6 2.6M316.8 73.6l2.6 -2.6M317.8 72.2l2.6 2.6M317.8 74.8l2.6 -2.6M318.8 72l2.6 2.6M318.8 74.6l2.6 -2.6M319.8 72.4l2.6 2.6M319.8 75l2.6 -2.6M320.7 73.7l2.6 2.6M320.7 76.3l2.6 -2.6M321.7 74.5l2.6 2.6M321.7 77.1l2.6 -2.6M322.6 73.9l2.6 2.6M322.6 76.5l2.6 -2.6M323.5 74.7l2.6 2.6M323.5 77.3l2.6 -2.6M324.4 75.4l2.6 2.6M324.4 78l2.6 -2.6M325.3 74.7l2.6 2.6M325.3 77.3l2.6 -2.6M326.2 76l2.6 2.6M326.2 78.6l2.6 -2.6M327 76.3l2.6 2.6M327 78.9l2.6 -2.6M327.8 76.2l2.6 2.6M327.8 78.8l2.6 -2.6M328.7 78.1l2.6 2.6M328.7 80.7l2.6 -2.6M329.5 77.1l2.6 2.6M329.5 79.7l2.6 -2.6M330.3 77.2l2.6 2.6M330.3 79.8l2.6 -2.6M331.1 78.4l2.6 2.6M331.1 81l2.6 -2.6M331.8 79.3l2.6 2.6M331.8 81.9l2.6 -2.6M332.6 78.9l2.6 2.6M332.6 81.5l2.6 -2.6M333.3 80.6l2.6 2.6M333.3 83.2l2.6 -2.6M334.1 80.2l2.6 2.6M334.1 82.8l2.6 -2.6M334.8 80.8l2.6 2.6M334.8 83.4l2.6 -2.6M335.5 81.2l2.6 2.6M335.5 83.8l2.6 -2.6M336.2 81.3l2.6 2.6M336.2 83.9l2.6 -2.6M336.9 81.7l2.6 2.6M336.9 84.3l2.6 -2.6M337.6 82.1l2.6 2.6M337.6 84.7l2.6 -2.6M338.3 82.6l2.6 2.6M338.3 85.2l2.6 -2.6M338.9 83.5l2.6 2.6M338.9 86.1l2.6 -2.6M339.6 83.6l2.6 2.6M339.6 86.2l2.6 -2.6M340.2 84l2.6 2.6M340.2 86.6l2.6 -2.6M340.9 84.2l2.6 2.6M340.9 86.8l2.6 -2.6M341.5 84.1l2.6 2.6M341.5 86.7l2.6 -2.6M342.1 85.4l2.6 2.6M342.1 88l2.6 -2.6M342.7 85.4l2.6 2.6M342.7 88l2.6 -2.6M343.4 85.3l2.6 2.6M343.4 87.9l2.6 -2.6M344 86.2l2.6 2.6M344 88.8l2.6 -2.6M344.6 86l2.6 2.6M344.6 88.6l2.6 -2.6M345.1 87.1l2.6 2.6M345.1 89.7l2.6 -2.6M345.7 87.7l2.6 2.6M345.7 90.3l2.6 -2.6M346.3 88.3l2.6 2.6M346.3 90.9l2.6 -2.6M346.9 87.6l2.6 2.6M346.9 90.2l2.6 -2.6M347.4 88l2.6 2.6M347.4 90.6l2.6 -2.6M348 87.9l2.6 2.6M348 90.5l2.6 -2.6M348.5 88.2l2.6 2.6M348.5 90.8l2.6 -2.6M349.1 89.1l2.6 2.6M349.1 91.7l2.6 -2.6M349.6 89l2.6 2.6M349.6 91.6l2.6 -2.6M350.1 89.3l2.6 2.6M350.1 91.9l2.6 -2.6M350.7 89.7l2.6 2.6M350.7 92.3l2.6 -2.6M351.2 90.9l2.6 2.6M351.2 93.5l2.6 -2.6M351.7 90.9l2.6 2.6M351.7 93.5l2.6 -2.6M352.2 90.7l2.6 2.6M352.2 93.3l2.6 -2.6M352.7 91.3l2.6 2.6M352.7 93.9l2.6 -2.6M353.2 92.3l2.6 2.6M353.2 94.9l2.6 -2.6M353.7 92.5l2.6 2.6M353.7 95.1l2.6 -2.6M354.2 92.6l2.6 2.6M354.2 95.2l2.6 -2.6M354.7 93.1l2.6 2.6M354.7 95.7l2.6 -2.6M355.2 93.2l2.6 2.6M355.2 95.8l2.6 -2.6M355.6 93.7l2.6 2.6M355.6 96.3l2.6 -2.6M356.1 94.3l2.6 2.6M356.1 96.9l2.6 -2.6M356.6 94.5l2.6 2.6M356.6 97.1l2.6 -2.6M357 94l2.6 2.6M357 96.6l2.6 -2.6M357.5 94.2l2.6 2.6M357.5 96.8l2.6 -2.6M357.9 95.4l2.6 2.6M357.9 98l2.6 -2.6M358.4 95.6l2.6 2.6M358.4 98.2l2.6 -2.6M358.8 95.5l2.6 2.6M358.8 98.1l2.6 -2.6M359.3 96.5l2.6 2.6M359.3 99.1l2.6 -2.6M359.7 96.2l2.6 2.6M359.7 98.8l2.6 -2.6M360.1 96.5l2.6 2.6M360.1 99.1l2.6 -2.6M360.6 97l2.6 2.6M360.6 99.6l2.6 -2.6M361 98.2l2.6 2.6M361 100.8l2.6 -2.6M361.4 97.1l2.6 2.6M361.4 99.7l2.6 -2.6M361.8 98.2l2.6 2.6M361.8 100.8l2.6 -2.6M362.3 98.7l2.6 2.6M362.3 101.3l2.6 -2.6M362.7 99.2l2.6 2.6M362.7 101.8l2.6 -2.6M363.1 99.2l2.6 2.6M363.1 101.8l2.6 -2.6M363.5 99.2l2.6 2.6M363.5 101.8l2.6 -2.6M363.9 99.2l2.6 2.6M363.9 101.8l2.6 -2.6M364.3 99.7l2.6 2.6M364.3 102.3l2.6 -2.6M364.7 100.6l2.6 2.6M364.7 103.2l2.6 -2.6M365.1 100.6l2.6 2.6M365.1 103.2l2.6 -2.6M365.5 100.2l2.6 2.6M365.5 102.8l2.6 -2.6M365.9 101.4l2.6 2.6M365.9 104l2.6 -2.6M366.2 101l2.6 2.6M366.2 103.6l2.6 -2.6M366.6 101.9l2.6 2.6M366.6 104.5l2.6 -2.6M367 102.6l2.6 2.6M367 105.2l2.6 -2.6M367.4 103.4l2.6 2.6M367.4 106l2.6 -2.6M367.7 102.5l2.6 2.6M367.7 105.1l2.6 -2.6M368.1 102.6l2.6 2.6M368.1 105.2l2.6 -2.6M368.5 102.5l2.6 2.6M368.5 105.1l2.6 -2.6M368.8 103.8l2.6 2.6M368.8 106.4l2.6 -2.6M369.2 103.8l2.6 2.6M369.2 106.4l2.6 -2.6M369.6 104l2.6 2.6M369.6 106.6l2.6 -2.6M369.9 103.7l2.6 2.6M369.9 106.3l2.6 -2.6M370.3 104.5l2.6 2.6M370.3 107.1l2.6 -2.6M370.6 105.4l2.6 2.6M370.6 108l2.6 -2.6M371 105.7l2.6 2.6M371 108.3l2.6 -2.6M371.3 105.7l2.6 2.6M371.3 108.3l2.6 -2.6M371.7 105.9l2.6 2.6M371.7 108.5l2.6 -2.6M372 105.6l2.6 2.6M372 108.2l2.6 -2.6M372.3 107.3l2.6 2.6M372.3 109.9l2.6 -2.6M372.7 107l2.6 2.6M372.7 109.6l2.6 -2.6M373 107.3l2.6 2.6M373 109.9l2.6 -2.6M373.3 107.9l2.6 2.6M373.3 110.5l2.6 -2.6M373.7 108.2l2.6 2.6M373.7 110.8l2.6 -2.6M374 108.6l2.6 2.6M374 111.2l2.6 -2.6M374.3 108.1l2.6 2.6M374.3 110.7l2.6 -2.6M374.7 109.4l2.6 2.6M374.7 112l2.6 -2.6M375 109.4l2.6 2.6M375 112l2.6 -2.6M375.3 109.6l2.6 2.6M375.3 112.2l2.6 -2.6M375.6 111.1l2.6 2.6M375.6 113.7l2.6 -2.6M375.9 111l2.6 2.6M375.9 113.6l2.6 -2.6M376.2 111.6l2.6 2.6M376.2 114.2l2.6 -2.6M376.5 111l2.6 2.6M376.5 113.6l2.6 -2.6M376.9 112.2l2.6 2.6M376.9 114.8l2.6 -2.6M377.2 111.7l2.6 2.6M377.2 114.3l2.6 -2.6M377.5 111.5l2.6 2.6M377.5 114.1l2.6 -2.6M377.8 113l2.6 2.6M377.8 115.6l2.6 -2.6M378.1 113.3l2.6 2.6M378.1 115.9l2.6 -2.6M378.4 113.6l2.6 2.6M378.4 116.2l2.6 -2.6M378.7 114.4l2.6 2.6M378.7 117l2.6 -2.6M379 114.2l2.6 2.6M379 116.8l2.6 -2.6M379.3 114.9l2.6 2.6M379.3 117.5l2.6 -2.6M379.6 115l2.6 2.6M379.6 117.6l2.6 -2.6M379.8 115.2l2.6 2.6M379.8 117.8l2.6 -2.6M380.1 115.5l2.6 2.6M380.1 118.1l2.6 -2.6M380.4 116.2l2.6 2.6M380.4 118.8l2.6 -2.6M380.7 116.1l2.6 2.6M380.7 118.7l2.6 -2.6M381 116.8l2.6 2.6M381 119.4l2.6 -2.6M381.3 117l2.6 2.6M381.3 119.6l2.6 -2.6M381.6 117.2l2.6 2.6M381.6 119.8l2.6 -2.6M381.8 117.2l2.6 2.6M381.8 119.8l2.6 -2.6M382.1 117.1l2.6 2.6M382.1 119.7l2.6 -2.6M382.4 117.9l2.6 2.6M382.4 120.5l2.6 -2.6M382.7 118.7l2.6 2.6M382.7 121.3l2.6 -2.6M382.9 118.9l2.6 2.6M382.9 121.5l2.6 -2.6M383.2 118.8l2.6 2.6M383.2 121.4l2.6 -2.6M383.5 120l2.6 2.6M383.5 122.6l2.6 -2.6M383.8 118.9l2.6 2.6M383.8 121.5l2.6 -2.6M384 120.7l2.6 2.6M384 123.3l2.6 -2.6M384.3 119.7l2.6 2.6M384.3 122.3l2.6 -2.6M384.6 120.9l2.6 2.6M384.6 123.5l2.6 -2.6M384.8 120.6l2.6 2.6M384.8 123.2l2.6 -2.6M385.1 121.7l2.6 2.6M385.1 124.3l2.6 -2.6M385.3 122.2l2.6 2.6M385.3 124.8l2.6 -2.6M385.6 122l2.6 2.6M385.6 124.6l2.6 -2.6M385.9 122l2.6 2.6M385.9 124.6l2.6 -2.6M386.1 121.9l2.6 2.6M386.1 124.5l2.6 -2.6M386.4 122.2l2.6 2.6M386.4 124.8l2.6 -2.6M386.6 123.2l2.6 2.6M386.6 125.8l2.6 -2.6M386.9 123.8l2.6 2.6M386.9 126.4l2.6 -2.6M387.1 123.7l2.6 2.6M387.1 126.3l2.6 -2.6M387.4 123.8l2.6 2.6M387.4 126.4l2.6 -2.6M387.6 124.8l2.6 2.6M387.6 127.4l2.6 -2.6M387.9 124.8l2.6 2.6M387.9 127.4l2.6 -2.6M388.1 125.1l2.6 2.6M388.1 127.7l2.6 -2.6M388.4 125.3l2.6 2.6M388.4 127.9l2.6 -2.6M388.6 124.9l2.6 2.6M388.6 127.5l2.6 -2.6M388.9 125.4l2.6 2.6M388.9 128l2.6 -2.6M389.1 126.8l2.6 2.6M389.1 129.4l2.6 -2.6M389.3 126.4l2.6 2.6M389.3 129l2.6 -2.6M389.6 127.3l2.6 2.6M389.6 129.9l2.6 -2.6M389.8 126.5l2.6 2.6M389.8 129.1l2.6 -2.6M390.1 127.5l2.6 2.6M390.1 130.1l2.6 -2.6M390.3 128.5l2.6 2.6M390.3 131.1l2.6 -2.6M390.5 128.3l2.6 2.6M390.5 130.9l2.6 -2.6M390.8 129l2.6 2.6M390.8 131.6l2.6 -2.6M391 129.7l2.6 2.6M391 132.3l2.6 -2.6M391.2 129.4l2.6 2.6M391.2 132l2.6 -2.6M391.4 129.1l2.6 2.6M391.4 131.7l2.6 -2.6M391.7 130.2l2.6 2.6M391.7 132.8l2.6 -2.6M391.9 130.6l2.6 2.6M391.9 133.2l2.6 -2.6M392.1 130.5l2.6 2.6M392.1 133.1l2.6 -2.6M392.4 132l2.6 2.6M392.4 134.6l2.6 -2.6M392.6 131.7l2.6 2.6M392.6 134.3l2.6 -2.6M392.8 131.9l2.6 2.6M392.8 134.5l2.6 -2.6M393 133.4l2.6 2.6M393 136l2.6 -2.6M393.3 133l2.6 2.6M393.3 135.6l2.6 -2.6M393.5 132.9l2.6 2.6M393.5 135.5l2.6 -2.6M393.7 134l2.6 2.6M393.7 136.6l2.6 -2.6M393.9 134.5l2.6 2.6M393.9 137.1l2.6 -2.6M394.1 134.7l2.6 2.6M394.1 137.3l2.6 -2.6M394.4 134.6l2.6 2.6M394.4 137.2l2.6 -2.6M394.6 135.4l2.6 2.6M394.6 138l2.6 -2.6M394.8 135.2l2.6 2.6M394.8 137.8l2.6 -2.6M395 136.5l2.6 2.6M395 139.1l2.6 -2.6M395.2 136.5l2.6 2.6M395.2 139.1l2.6 -2.6M395.4 136.6l2.6 2.6M395.4 139.2l2.6 -2.6M395.6 137.1l2.6 2.6M395.6 139.7l2.6 -2.6M395.8 138l2.6 2.6M395.8 140.6l2.6 -2.6M396.1 138.1l2.6 2.6M396.1 140.7l2.6 -2.6M396.3 138l2.6 2.6M396.3 140.6l2.6 -2.6M396.5 138.6l2.6 2.6M396.5 141.2l2.6 -2.6M396.7 139.1l2.6 2.6M396.7 141.7l2.6 -2.6M396.9 138.9l2.6 2.6M396.9 141.5l2.6 -2.6M397.1 139.3l2.6 2.6M397.1 141.9l2.6 -2.6M397.3 139.8l2.6 2.6M397.3 142.4l2.6 -2.6M397.5 140.7l2.6 2.6M397.5 143.3l2.6 -2.6M397.7 140.8l2.6 2.6M397.7 143.4l2.6 -2.6M397.9 140.8l2.6 2.6M397.9 143.4l2.6 -2.6M398.1 141l2.6 2.6M398.1 143.6l2.6 -2.6M398.3 141.5l2.6 2.6M398.3 144.1l2.6 -2.6M398.5 142.4l2.6 2.6M398.5 145l2.6 -2.6M398.7 142.4l2.6 2.6M398.7 145l2.6 -2.6M398.9 143l2.6 2.6M398.9 145.6l2.6 -2.6M399.1 142.5l2.6 2.6M399.1 145.1l2.6 -2.6M399.3 142.9l2.6 2.6M399.3 145.5l2.6 -2.6M399.5 143.3l2.6 2.6M399.5 145.9l2.6 -2.6M399.7 143.6l2.6 2.6M399.7 146.2l2.6 -2.6M399.9 145l2.6 2.6M399.9 147.6l2.6 -2.6M400.1 145.3l2.6 2.6M400.1 147.9l2.6 -2.6M400.3 144.3l2.6 2.6M400.3 146.9l2.6 -2.6M400.5 145.7l2.6 2.6M400.5 148.3l2.6 -2.6M400.7 144.6l2.6 2.6M400.7 147.2l2.6 -2.6M400.8 145.9l2.6 2.6M400.8 148.5l2.6 -2.6M401 146.3l2.6 2.6M401 148.9l2.6 -2.6M401.2 146.4l2.6 2.6M401.2 149l2.6 -2.6M401.4 147.9l2.6 2.6M401.4 150.5l2.6 -2.6M401.6 147.1l2.6 2.6M401.6 149.7l2.6 -2.6M401.8 148.3l2.6 2.6M401.8 150.9l2.6 -2.6M402 147.7l2.6 2.6M402 150.3l2.6 -2.6M402.2 148.5l2.6 2.6M402.2 151.1l2.6 -2.6M402.3 149.6l2.6 2.6M402.3 152.2l2.6 -2.6M402.5 149.8l2.6 2.6M402.5 152.4l2.6 -2.6M402.7 150.2l2.6 2.6M402.7 152.8l2.6 -2.6M402.9 150.1l2.6 2.6M402.9 152.7l2.6 -2.6M403.1 150.2l2.6 2.6M403.1 152.8l2.6 -2.6M403.3 150l2.6 2.6M403.3 152.6l2.6 -2.6M403.4 151.3l2.6 2.6M403.4 153.9l2.6 -2.6M403.6 151.8l2.6 2.6M403.6 154.4l2.6 -2.6M403.8 151.6l2.6 2.6M403.8 154.2l2.6 -2.6M404 152.4l2.6 2.6M404 155l2.6 -2.6M404.2 153.8l2.6 2.6M404.2 156.4l2.6 -2.6M404.3 152.7l2.6 2.6M404.3 155.3l2.6 -2.6M404.5 153.5l2.6 2.6M404.5 156.1l2.6 -2.6M404.7 153.8l2.6 2.6M404.7 156.4l2.6 -2.6M404.9 154.2l2.6 2.6M404.9 156.8l2.6 -2.6M405 155.2l2.6 2.6M405 157.8l2.6 -2.6M405.2 156.3l2.6 2.6M405.2 158.9l2.6 -2.6M405.4 155.4l2.6 2.6M405.4 158l2.6 -2.6M405.6 156.5l2.6 2.6M405.6 159.1l2.6 -2.6M405.7 156.1l2.6 2.6M405.7 158.7l2.6 -2.6M405.9 156.8l2.6 2.6M405.9 159.4l2.6 -2.6M406.1 157.6l2.6 2.6M406.1 160.2l2.6 -2.6M406.2 157.5l2.6 2.6M406.2 160.1l2.6 -2.6M406.4 157.2l2.6 2.6M406.4 159.8l2.6 -2.6M406.6 158.5l2.6 2.6M406.6 161.1l2.6 -2.6M406.8 158.2l2.6 2.6M406.8 160.8l2.6 -2.6M406.9 159.6l2.6 2.6M406.9 162.2l2.6 -2.6M407.1 160.1l2.6 2.6M407.1 162.7l2.6 -2.6M407.3 158.7l2.6 2.6M407.3 161.3l2.6 -2.6M407.4 160.6l2.6 2.6M407.4 163.2l2.6 -2.6M407.6 159.9l2.6 2.6M407.6 162.5l2.6 -2.6M407.8 161.4l2.6 2.6M407.8 164l2.6 -2.6M407.9 160.9l2.6 2.6M407.9 163.5l2.6 -2.6M408.1 162.3l2.6 2.6M408.1 164.9l2.6 -2.6M408.3 162.2l2.6 2.6M408.3 164.8l2.6 -2.6M408.4 163.7l2.6 2.6M408.4 166.3l2.6 -2.6M408.6 164l2.6 2.6M408.6 166.6l2.6 -2.6M408.7 163.5l2.6 2.6M408.7 166.1l2.6 -2.6M408.9 163.9l2.6 2.6M408.9 166.5l2.6 -2.6M409.1 164.3l2.6 2.6M409.1 166.9l2.6 -2.6M409.2 166.1l2.6 2.6M409.2 168.7l2.6 -2.6M409.4 166.3l2.6 2.6M409.4 168.9l2.6 -2.6M409.5 165.8l2.6 2.6M409.5 168.4l2.6 -2.6M409.7 167.2l2.6 2.6M409.7 169.8l2.6 -2.6M409.9 167.2l2.6 2.6M409.9 169.8l2.6 -2.6M410 169.2l2.6 2.6M410 171.8l2.6 -2.6M410.2 167.6l2.6 2.6M410.2 170.2l2.6 -2.6M410.3 167.9l2.6 2.6M410.3 170.5l2.6 -2.6M410.5 169.3l2.6 2.6M410.5 171.9l2.6 -2.6M410.7 169.7l2.6 2.6M410.7 172.3l2.6 -2.6M410.8 169.3l2.6 2.6M410.8 171.9l2.6 -2.6M411 170.8l2.6 2.6M411 173.4l2.6 -2.6M411.1 171.3l2.6 2.6M411.1 173.9l2.6 -2.6M411.3 171.7l2.6 2.6M411.3 174.3l2.6 -2.6M411.4 168.9l2.6 2.6M411.4 171.5l2.6 -2.6M411.6 171.8l2.6 2.6M411.6 174.4l2.6 -2.6M411.7 171.4l2.6 2.6M411.7 174l2.6 -2.6M411.9 173.7l2.6 2.6M411.9 176.3l2.6 -2.6M412 173.4l2.6 2.6M412 176l2.6 -2.6M412.2 173.6l2.6 2.6M412.2 176.2l2.6 -2.6M412.3 174.5l2.6 2.6M412.3 177.1l2.6 -2.6M412.5 173.8l2.6 2.6M412.5 176.4l2.6 -2.6M412.6 174.3l2.6 2.6M412.6 176.9l2.6 -2.6M412.8 173.1l2.6 2.6M412.8 175.7l2.6 -2.6M412.9 174.8l2.6 2.6M412.9 177.4l2.6 -2.6M413.1 174.4l2.6 2.6M413.1 177l2.6 -2.6M413.2 175.8l2.6 2.6M413.2 178.4l2.6 -2.6M413.4 176.6l2.6 2.6M413.4 179.2l2.6 -2.6M413.5 177l2.6 2.6M413.5 179.6l2.6 -2.6M413.7 178.5l2.6 2.6M413.7 181.1l2.6 -2.6M413.8 178.6l2.6 2.6M413.8 181.2l2.6 -2.6M414 178.9l2.6 2.6M414 181.5l2.6 -2.6M414.1 178.6l2.6 2.6M414.1 181.2l2.6 -2.6M414.3 178.2l2.6 2.6M414.3 180.8l2.6 -2.6M414.4 178.8l2.6 2.6M414.4 181.4l2.6 -2.6M414.6 181.5l2.6 2.6M414.6 184.1l2.6 -2.6M414.7 182.5l2.6 2.6M414.7 185.1l2.6 -2.6M414.8 180.7l2.6 2.6M414.8 183.3l2.6 -2.6M415 180.4l2.6 2.6M415 183l2.6 -2.6M415.1 181.7l2.6 2.6M415.1 184.3l2.6 -2.6M415.3 183.8l2.6 2.6M415.3 186.4l2.6 -2.6M415.4 183.4l2.6 2.6M415.4 186l2.6 -2.6M415.6 181.2l2.6 2.6M415.6 183.8l2.6 -2.6M415.7 183.7l2.6 2.6M415.7 186.3l2.6 -2.6M415.8 185l2.6 2.6M415.8 187.6l2.6 -2.6M416 184.6l2.6 2.6M416 187.2l2.6 -2.6M416.1 185.4l2.6 2.6M416.1 188l2.6 -2.6M416.3 183.6l2.6 2.6M416.3 186.2l2.6 -2.6M416.4 183.8l2.6 2.6M416.4 186.4l2.6 -2.6M416.5 185.3l2.6 2.6M416.5 187.9l2.6 -2.6M416.7 186.6l2.6 2.6M416.7 189.2l2.6 -2.6M416.8 186.1l2.6 2.6M416.8 188.7l2.6 -2.6M417 187.7l2.6 2.6M417 190.3l2.6 -2.6M417.1 187.7l2.6 2.6M417.1 190.3l2.6 -2.6M417.2 187.7l2.6 2.6M417.2 190.3l2.6 -2.6M417.4 185.4l2.6 2.6M417.4 188l2.6 -2.6M417.5 189.8l2.6 2.6M417.5 192.4l2.6 -2.6M417.6 187.9l2.6 2.6M417.6 190.5l2.6 -2.6M417.8 190.3l2.6 2.6M417.8 192.9l2.6 -2.6M417.9 191.9l2.6 2.6M417.9 194.5l2.6 -2.6M418 191l2.6 2.6M418 193.6l2.6 -2.6M418.2 192.4l2.6 2.6M418.2 195l2.6 -2.6M418.3 193.8l2.6 2.6M418.3 196.4l2.6 -2.6M418.4 191.2l2.6 2.6M418.4 193.8l2.6 -2.6M418.6 193.8l2.6 2.6M418.6 196.4l2.6 -2.6M418.7 193.7l2.6 2.6M418.7 196.3l2.6 -2.6M418.8 192l2.6 2.6M418.8 194.6l2.6 -2.6M419 193.9l2.6 2.6M419 196.5l2.6 -2.6M419.1 193.8l2.6 2.6M419.1 196.4l2.6 -2.6M419.2 196.2l2.6 2.6M419.2 198.8l2.6 -2.6M419.4 193.3l2.6 2.6M419.4 195.9l2.6 -2.6M419.5 195l2.6 2.6M419.5 197.6l2.6 -2.6M419.6 194.4l2.6 2.6M419.6 197l2.6 -2.6M419.8 198.6l2.6 2.6M419.8 201.2l2.6 -2.6M419.9 199l2.6 2.6M419.9 201.6l2.6 -2.6M420 193.8l2.6 2.6M420 196.4l2.6 -2.6M420.1 199.6l2.6 2.6M420.1 202.2l2.6 -2.6M420.3 193.9l2.6 2.6M420.3 196.5l2.6 -2.6M420.4 200.3l2.6 2.6M420.4 202.9l2.6 -2.6M420.5 198.5l2.6 2.6M420.5 201.1l2.6 -2.6M420.7 198.5l2.6 2.6M420.7 201.1l2.6 -2.6M420.8 199.1l2.6 2.6M420.8 201.7l2.6 -2.6M420.9 198.6l2.6 2.6M420.9 201.2l2.6 -2.6M421 198.4l2.6 2.6M421 201l2.6 -2.6M421.2 201.1l2.6 2.6M421.2 203.7l2.6 -2.6M421.3 204l2.6 2.6M421.3 206.6l2.6 -2.6M421.4 201.8l2.6 2.6M421.4 204.4l2.6 -2.6M421.5 200.3l2.6 2.6M421.5 202.9l2.6 -2.6M421.7 201.4l2.6 2.6M421.7 204l2.6 -2.6M421.8 196.4l2.6 2.6M421.8 199l2.6 -2.6M421.9 205.4l2.6 2.6M421.9 208l2.6 -2.6M422 199.9l2.6 2.6M422 202.5l2.6 -2.6M422.2 197.6l2.6 2.6M422.2 200.2l2.6 -2.6M422.3 206.3l2.6 2.6M422.3 208.9l2.6 -2.6M422.4 201.3l2.6 2.6M422.4 203.9l2.6 -2.6M422.5 205.9l2.6 2.6M422.5 208.5l2.6 -2.6M422.7 211.2l2.6 2.6M422.7 213.8l2.6 -2.6M422.8 205.4l2.6 2.6M422.8 208l2.6 -2.6M422.9 214l2.6 2.6M422.9 216.6l2.6 -2.6M423 214.2l2.6 2.6M423 216.8l2.6 -2.6M423.2 210.9l2.6 2.6M423.2 213.5l2.6 -2.6M423.3 209.4l2.6 2.6M423.3 212l2.6 -2.6M423.4 207.1l2.6 2.6M423.4 209.7l2.6 -2.6M423.5 204.8l2.6 2.6M423.5 207.4l2.6 -2.6M423.6 206.3l2.6 2.6M423.6 208.9l2.6 -2.6M423.8 210.2l2.6 2.6M423.8 212.8l2.6 -2.6M423.9 211.1l2.6 2.6M423.9 213.7l2.6 -2.6M424 209.7l2.6 2.6M424 212.3l2.6 -2.6M424.1 207.9l2.6 2.6M424.1 210.5l2.6 -2.6M424.2 209.6l2.6 2.6M424.2 212.2l2.6 -2.6M424.3 224.7l2.6 2.6M424.3 227.3l2.6 -2.6M424.5 209.6l2.6 2.6M424.5 212.2l2.6 -2.6M424.6 216.1l2.6 2.6M424.6 218.7l2.6 -2.6M424.7 216l2.6 2.6M424.7 218.6l2.6 -2.6M424.8 216.6l2.6 2.6M424.8 219.2l2.6 -2.6M424.9 218.4l2.6 2.6M424.9 221l2.6 -2.6M425.1 212.1l2.6 2.6M425.1 214.7l2.6 -2.6M425.2 212l2.6 2.6M425.2 214.6l2.6 -2.6M425.3 218.4l2.6 2.6M425.3 221l2.6 -2.6M425.4 219.2l2.6 2.6M425.4 221.8l2.6 -2.6M425.5 221.3l2.6 2.6M425.5 223.9l2.6 -2.6M425.6 216.3l2.6 2.6M425.6 218.9l2.6 -2.6M425.8 216.9l2.6 2.6M425.8 219.5l2.6 -2.6M425.9 223.4l2.6 2.6M425.9 226l2.6 -2.6M426 213.1l2.6 2.6M426 215.7l2.6 -2.6M426.1 217.8l2.6 2.6M426.1 220.4l2.6 -2.6M426.2 215.4l2.6 2.6M426.2 218l2.6 -2.6M426.3 213l2.6 2.6M426.3 215.6l2.6 -2.6M426.4 213.2l2.6 2.6M426.4 215.8l2.6 -2.6M426.6 226.9l2.6 2.6M426.6 229.5l2.6 -2.6M426.7 217.1l2.6 2.6M426.7 219.7l2.6 -2.6M426.8 209.8l2.6 2.6M426.8 212.4l2.6 -2.6M426.9 217.7l2.6 2.6M426.9 220.3l2.6 -2.6M427 219.6l2.6 2.6M427 222.2l2.6 -2.6M427.1 223.4l2.6 2.6M427.1 226l2.6 -2.6M427.2 212.6l2.6 2.6M427.2 215.2l2.6 -2.6M427.3 224.2l2.6 2.6M427.3 226.8l2.6 -2.6M427.5 221.2l2.6 2.6M427.5 223.8l2.6 -2.6M427.6 226.6l2.6 2.6M427.6 229.2l2.6 -2.6M427.7 231l2.6 2.6M427.7 233.6l2.6 -2.6M427.8 228.4l2.6 2.6M427.8 231l2.6 -2.6M427.9 224.1l2.6 2.6M427.9 226.7l2.6 -2.6M428 221.3l2.6 2.6M428 223.9l2.6 -2.6M428.1 221.3l2.6 2.6M428.1 223.9l2.6 -2.6M428.2 237.1l2.6 2.6M428.2 239.7l2.6 -2.6M428.3 232.6l2.6 2.6M428.3 235.2l2.6 -2.6M428.4 210.8l2.6 2.6M428.4 213.4l2.6 -2.6M428.6 231.3l2.6 2.6M428.6 233.9l2.6 -2.6M428.7 229.7l2.6 2.6M428.7 232.3l2.6 -2.6M428.8 229l2.6 2.6M428.8 231.6l2.6 -2.6M428.9 221.1l2.6 2.6M428.9 223.7l2.6 -2.6M429 228.9l2.6 2.6M429 231.5l2.6 -2.6M429.1 225.7l2.6 2.6M429.1 228.3l2.6 -2.6M429.2 234.2l2.6 2.6M429.2 236.8l2.6 -2.6M429.3 232.5l2.6 2.6M429.3 235.1l2.6 -2.6M429.4 221.7l2.6 2.6M429.4 224.3l2.6 -2.6M429.5 225.7l2.6 2.6M429.5 228.3l2.6 -2.6M429.6 234.7l2.6 2.6M429.6 237.3l2.6 -2.6M429.7 239.6l2.6 2.6M429.7 242.2l2.6 -2.6M429.8 226.7l2.6 2.6M429.8 229.3l2.6 -2.6M429.9 236.1l2.6 2.6M429.9 238.7l2.6 -2.6M430.1 240.5l2.6 2.6M430.1 243.1l2.6 -2.6M430.2 227.1l2.6 2.6M430.2 229.7l2.6 -2.6M430.3 242.7l2.6 2.6M430.3 245.3l2.6 -2.6M430.4 237.3l2.6 2.6M430.4 239.9l2.6 -2.6M430.5 229.3l2.6 2.6M430.5 231.9l2.6 -2.6M430.6 238l2.6 2.6M430.6 240.6l2.6 -2.6M430.7 240l2.6 2.6M430.7 242.6l2.6 -2.6M430.8 246.9l2.6 2.6M430.8 249.5l2.6 -2.6M430.9 239.7l2.6 2.6M430.9 242.3l2.6 -2.6M431 236.4l2.6 2.6M431 239l2.6 -2.6M431.1 221.4l2.6 2.6M431.1 224l2.6 -2.6M431.2 236.8l2.6 2.6M431.2 239.4l2.6 -2.6M431.3 229.5l2.6 2.6M431.3 232.1l2.6 -2.6M431.4 239.8l2.6 2.6M431.4 242.4l2.6 -2.6M431.5 237.7l2.6 2.6M431.5 240.3l2.6 -2.6M431.6 236.6l2.6 2.6M431.6 239.2l2.6 -2.6M431.7 237.9l2.6 2.6M431.7 240.5l2.6 -2.6M431.8 240.5l2.6 2.6M431.8 243.1l2.6 -2.6M432.1 244.8l2.6 2.6M432.1 247.4l2.6 -2.6M432.2 242.3l2.6 2.6M432.2 244.9l2.6 -2.6M432.4 235.6l2.6 2.6M432.4 238.2l2.6 -2.6M432.7 251.5l2.6 2.6M432.7 254.1l2.6 -2.6M432.8 239.9l2.6 2.6M432.8 242.5l2.6 -2.6M433 239l2.6 2.6M433 241.6l2.6 -2.6M433.2 240.8l2.6 2.6M433.2 243.4l2.6 -2.6M433.5 244.5l2.6 2.6M433.5 247.1l2.6 -2.6M433.8 245.1l2.6 2.6M433.8 247.7l2.6 -2.6M434.1 250.3l2.6 2.6M434.1 252.9l2.6 -2.6M434.3 237.9l2.6 2.6M434.3 240.5l2.6 -2.6M434.5 239.5l2.6 2.6M434.5 242.1l2.6 -2.6M425.6 217l2.6 2.6M425.6 219.6l2.6 -2.6M425.8 217.6l2.6 2.6M425.8 220.2l2.6 -2.6M425.9 218.2l2.6 2.6M425.9 220.8l2.6 -2.6M426 218.8l2.6 2.6M426 221.4l2.6 -2.6M426.3 219.4l2.6 2.6M426.3 222l2.6 -2.6M426.6 220l2.6 2.6M426.6 222.6l2.6 -2.6M427.1 220.6l2.6 2.6M427.1 223.2l2.6 -2.6M427.3 221.2l2.6 2.6M427.3 223.8l2.6 -2.6M426.2 221.8l2.6 2.6M426.2 224.4l2.6 -2.6M426.1 222.4l2.6 2.6M426.1 225l2.6 -2.6M426.9 223l2.6 2.6M426.9 225.6l2.6 -2.6M427 223.6l2.6 2.6M427 226.2l2.6 -2.6M427.7 224.2l2.6 2.6M427.7 226.8l2.6 -2.6M428.7 224.8l2.6 2.6M428.7 227.4l2.6 -2.6M426 225.4l2.6 2.6M426 228l2.6 -2.6M426.1 226l2.6 2.6M426.1 228.6l2.6 -2.6M427.8 226.6l2.6 2.6M427.8 229.2l2.6 -2.6M428.4 227.2l2.6 2.6M428.4 229.8l2.6 -2.6M428.8 227.8l2.6 2.6M428.8 230.4l2.6 -2.6M429.5 228.4l2.6 2.6M429.5 231l2.6 -2.6M429.5 229l2.6 2.6M429.5 231.6l2.6 -2.6M428 229.6l2.6 2.6M428 232.2l2.6 -2.6M428.7 230.2l2.6 2.6M428.7 232.8l2.6 -2.6M429.2 230.8l2.6 2.6M429.2 233.4l2.6 -2.6M428.6 231.4l2.6 2.6M428.6 234l2.6 -2.6M428.8 232l2.6 2.6M428.8 234.6l2.6 -2.6M428 232.6l2.6 2.6M428 235.2l2.6 -2.6M430.9 233.2l2.6 2.6M430.9 235.8l2.6 -2.6M431 233.8l2.6 2.6M431 236.4l2.6 -2.6M428.9 234.4l2.6 2.6M428.9 237l2.6 -2.6M429.1 235l2.6 2.6M429.1 237.6l2.6 -2.6M430.2 235.6l2.6 2.6M430.2 238.2l2.6 -2.6M430.2 236.2l2.6 2.6M430.2 238.8l2.6 -2.6M429.2 236.8l2.6 2.6M429.2 239.4l2.6 -2.6M429 237.4l2.6 2.6M429 240l2.6 -2.6M431.9 238l2.6 2.6M431.9 240.6l2.6 -2.6M431 238.6l2.6 2.6M431 241.2l2.6 -2.6M432.3 239.2l2.6 2.6M432.3 241.8l2.6 -2.6M432.7 239.8l2.6 2.6M432.7 242.4l2.6 -2.6M430.9 240.4l2.6 2.6M430.9 243l2.6 -2.6M429.7 241l2.6 2.6M429.7 243.6l2.6 -2.6M433.1 241.6l2.6 2.6M433.1 244.2l2.6 -2.6M431.6 242.2l2.6 2.6M431.6 244.8l2.6 -2.6M432.1 242.8l2.6 2.6M432.1 245.4l2.6 -2.6M430.6 243.4l2.6 2.6M430.6 246l2.6 -2.6M432.7 244l2.6 2.6M432.7 246.6l2.6 -2.6M430.5 244.6l2.6 2.6M430.5 247.2l2.6 -2.6M430.5 245.2l2.6 2.6M430.5 247.8l2.6 -2.6M430.7 245.8l2.6 2.6M430.7 248.4l2.6 -2.6M432.3 246.4l2.6 2.6M432.3 249l2.6 -2.6M431.6 247l2.6 2.6M431.6 249.6l2.6 -2.6M430 247.6l2.6 2.6M430 250.2l2.6 -2.6M432.6 248.2l2.6 2.6M432.6 250.8l2.6 -2.6M433.5 248.8l2.6 2.6M433.5 251.4l2.6 -2.6M431.7 249.4l2.6 2.6M431.7 252l2.6 -2.6M431.7 250l2.6 2.6M431.7 252.6l2.6 -2.6M431.1 250.6l2.6 2.6M431.1 253.2l2.6 -2.6M432.7 251.2l2.6 2.6M432.7 253.8l2.6 -2.6M431.2 251.8l2.6 2.6M431.2 254.4l2.6 -2.6M432.7 253.4l2.6 2.6M432.7 256l2.6 -2.6M433.3 253.4l2.6 2.6M433.3 256l2.6 -2.6M433.9 253.4l2.6 2.6M433.9 256l2.6 -2.6M434.5 253.4l2.6 2.6M434.5 256l2.6 -2.6M435.1 253.4l2.6 2.6M435.1 256l2.6 -2.6M434.2 257.2l2.6 2.6M434.2 259.8l2.6 -2.6M434.9 257.2l2.6 2.6M434.9 259.8l2.6 -2.6M435.6 257.2l2.6 2.6M435.6 259.8l2.6 -2.6M436.3 257.2l2.6 2.6M436.3 259.8l2.6 -2.6M438.1 261.3l2.6 2.6M438.1 263.9l2.6 -2.6M438.8 261.3l2.6 2.6M438.8 263.9l2.6 -2.6M439.4 261.3l2.6 2.6M439.4 263.9l2.6 -2.6M440.1 261.3l2.6 2.6M440.1 263.9l2.6 -2.6M440.9 261.3l2.6 2.6M440.9 263.9l2.6 -2.6M441.6 261.3l2.6 2.6M441.6 263.9l2.6 -2.6M442.2 261.3l2.6 2.6M442.2 263.9l2.6 -2.6M442.9 261.3l2.6 2.6M442.9 263.9l2.6 -2.6M443.6 261.3l2.6 2.6M443.6 263.9l2.6 -2.6M444.3 261.3l2.6 2.6M444.3 263.9l2.6 -2.6M445.1 261.3l2.6 2.6M445.1 263.9l2.6 -2.6M445.8 261.3l2.6 2.6M445.8 263.9l2.6 -2.6M446.4 261.3l2.6 2.6M446.4 263.9l2.6 -2.6M447.1 261.3l2.6 2.6M447.1 263.9l2.6 -2.6M436.1 265.2l2.6 2.6M436.1 267.8l2.6 -2.6M436.7 265.2l2.6 2.6M436.7 267.8l2.6 -2.6M437.4 265.2l2.6 2.6M437.4 267.8l2.6 -2.6M438 265.2l2.6 2.6M438 267.8l2.6 -2.6M438.6 265.2l2.6 2.6M438.6 267.8l2.6 -2.6M439.3 265.2l2.6 2.6M439.3 267.8l2.6 -2.6M439.9 265.2l2.6 2.6M439.9 267.8l2.6 -2.6M440.6 265.2l2.6 2.6M440.6 267.8l2.6 -2.6M441.2 265.2l2.6 2.6M441.2 267.8l2.6 -2.6M441.9 265.2l2.6 2.6M441.9 267.8l2.6 -2.6M442.5 265.2l2.6 2.6M442.5 267.8l2.6 -2.6M443.2 265.2l2.6 2.6M443.2 267.8l2.6 -2.6M443.8 265.2l2.6 2.6M443.8 267.8l2.6 -2.6M438.1 269.2l2.6 2.6M438.1 271.8l2.6 -2.6M438.6 269.2l2.6 2.6M438.6 271.8l2.6 -2.6M439 269.2l2.6 2.6M439 271.8l2.6 -2.6M163.2 266.1l2.6 2.6M163.2 268.7l2.6 -2.6" stroke="#00f" stroke-width="0.75" fill="none"/>
<path d="M274.3 56.5h2.1v2.7h-2.1zM277.2 57.5h2.1v2.7h-2.1zM279.8 58.2h2.1v2.7h-2.1zM282.4 59h2.1v2.7h-2.1zM284.8 58.2h2.1v2.7h-2.1zM287.1 61h2.1v2.7h-2.1zM289.3 62.5h2.1v2.7h-2.1zM293.5 63.9h2.1v2.7h-2.1zM295.4 63.4h2.1v2.7h-2.1zM297.3 64.5h2.1v2.7h-2.1zM299.1 65.1h2.1v2.7h-2.1zM300.8 64.9h2.1v2.7h-2.1zM302.5 66.3h2.1v2.7h-2.1zM304.1 67.8h2.1v2.7h-2.1zM307.2 68.1h2.1v2.7h-2.1zM308.7 68.9h2.1v2.7h-2.1zM310.2 68.8h2.1v2.7h-2.1zM311.6 70h2.1v2.7h-2.1zM312.9 71.7h2.1v2.7h-2.1zM314.3 70.4h2.1v2.7h-2.1zM315.5 71.2h2.1v2.7h-2.1zM318 73.5h2.1v2.7h-2.1zM319.2 72.6h2.1v2.7h-2.1zM320.4 73.8h2.1v2.7h-2.1zM321.5 74.7h2.1v2.7h-2.1zM322.6 75.1h2.1v2.7h-2.1zM323.7 74.9h2.1v2.7h-2.1zM324.8 75.1h2.1v2.7h-2.1zM326.9 75.8h2.1v2.7h-2.1zM327.9 76.8h2.1v2.7h-2.1zM328.9 77.6h2.1v2.7h-2.1zM329.8 78.2h2.1v2.7h-2.1zM330.8 78.6h2.1v2.7h-2.1zM331.7 78.5h2.1v2.7h-2.1zM332.6 80.3h2.1v2.7h-2.1zM334.4 79.9h2.1v2.7h-2.1zM335.3 81h2.1v2.7h-2.1zM336.1 81.1h2.1v2.7h-2.1zM336.9 81.8h2.1v2.7h-2.1zM337.8 82.6h2.1v2.7h-2.1zM338.6 83.2h2.1v2.7h-2.1zM339.4 83.2h2.1v2.7h-2.1zM340.9 84.3h2.1v2.7h-2.1zM341.7 85.4h2.1v2.7h-2.1zM342.4 85h2.1v2.7h-2.1zM343.1 85.5h2.1v2.7h-2.1zM343.9 85.9h2.1v2.7h-2.1zM344.6 85.9h2.1v2.7h-2.1zM345.3 87.4h2.1v2.7h-2.1zM346.7 87.5h2.1v2.7h-2.1zM347.3 87.8h2.1v2.7h-2.1zM348 88.1h2.1v2.7h-2.1zM348.7 88.5h2.1v2.7h-2.1zM349.3 88.6h2.1v2.7h-2.1zM350 89.2h2.1v2.7h-2.1zM350.6 90.4h2.1v2.7h-2.1zM351.8 90.1h2.1v2.7h-2.1zM352.4 90.6h2.1v2.7h-2.1zM353 91h2.1v2.7h-2.1zM353.6 91.8h2.1v2.7h-2.1zM354.2 92.1h2.1v2.7h-2.1zM354.8 92.8h2.1v2.7h-2.1zM355.4 93.9h2.1v2.7h-2.1zM356.5 94.2h2.1v2.7h-2.1zM357.1 94.7h2.1v2.7h-2.1zM357.6 95.9h2.1v2.7h-2.1zM358.2 95.3h2.1v2.7h-2.1zM358.7 95.8h2.1v2.7h-2.1zM359.2 95.1h2.1v2.7h-2.1zM359.8 95.9h2.1v2.7h-2.1zM360.8 96.6h2.1v2.7h-2.1zM361.3 98.1h2.1v2.7h-2.1zM361.8 98.3h2.1v2.7h-2.1zM362.3 98.3h2.1v2.7h-2.1zM362.8 98.6h2.1v2.7h-2.1zM363.3 98.3h2.1v2.7h-2.1zM363.8 99.2h2.1v2.7h-2.1zM364.7 100h2.1v2.7h-2.1zM365.2 100h2.1v2.7h-2.1zM365.7 100.8h2.1v2.7h-2.1zM366.1 101.3h2.1v2.7h-2.1zM366.6 101.7h2.1v2.7h-2.1zM367 102h2.1v2.7h-2.1zM367.5 103.3h2.1v2.7h-2.1zM368.4 103.3h2.1v2.7h-2.1zM368.8 103.6h2.1v2.7h-2.1zM369.2 103.2h2.1v2.7h-2.1zM369.7 104.8h2.1v2.7h-2.1zM370.1 104h2.1v2.7h-2.1zM370.5 104.7h2.1v2.7h-2.1zM370.9 105.5h2.1v2.7h-2.1zM371.8 106.6h2.1v2.7h-2.1zM372.2 105.8h2.1v2.7h-2.1zM372.6 106.9h2.1v2.7h-2.1zM373 107.3h2.1v2.7h-2.1zM373.4 107.2h2.1v2.7h-2.1zM373.8 107.8h2.1v2.7h-2.1zM374.2 108.7h2.1v2.7h-2.1zM374.9 109h2.1v2.7h-2.1zM375.3 109.9h2.1v2.7h-2.1zM375.7 109.7h2.1v2.7h-2.1zM376.1 109.9h2.1v2.7h-2.1zM376.5 111.5h2.1v2.7h-2.1zM376.8 111.7h2.1v2.7h-2.1zM377.2 112.2h2.1v2.7h-2.1zM377.9 113.7h2.1v2.7h-2.1zM378.3 112.6h2.1v2.7h-2.1zM378.7 113.9h2.1v2.7h-2.1zM379 113.9h2.1v2.7h-2.1zM379.4 114.4h2.1v2.7h-2.1zM379.7 114.6h2.1v2.7h-2.1zM380.1 115.3h2.1v2.7h-2.1zM380.7 116.3h2.1v2.7h-2.1zM381.1 116.9h2.1v2.7h-2.1zM381.4 117.3h2.1v2.7h-2.1zM381.8 116.9h2.1v2.7h-2.1zM382.1 118.4h2.1v2.7h-2.1zM382.4 117.7h2.1v2.7h-2.1zM382.8 118.8h2.1v2.7h-2.1zM383.4 119.8h2.1v2.7h-2.1zM383.7 119.3h2.1v2.7h-2.1zM384.1 119.9h2.1v2.7h-2.1zM384.4 120.1h2.1v2.7h-2.1zM384.7 121.7h2.1v2.7h-2.1zM385 121.4h2.1v2.7h-2.1zM385.3 121h2.1v2.7h-2.1zM385.9 121.8h2.1v2.7h-2.1zM386.3 122.6h2.1v2.7h-2.1zM386.6 123.3h2.1v2.7h-2.1zM386.9 123.2h2.1v2.7h-2.1zM387.2 124.3h2.1v2.7h-2.1zM387.5 124.1h2.1v2.7h-2.1zM387.8 125h2.1v2.7h-2.1zM388.4 124.9h2.1v2.7h-2.1zM388.6 125.5h2.1v2.7h-2.1zM388.9 125.9h2.1v2.7h-2.1zM389.2 125.7h2.1v2.7h-2.1zM389.5 127.5h2.1v2.7h-2.1zM389.8 126.6h2.1v2.7h-2.1zM390.1 128h2.1v2.7h-2.1zM390.7 128.3h2.1v2.7h-2.1zM390.9 129.5h2.1v2.7h-2.1zM391.2 129.4h2.1v2.7h-2.1zM391.5 129.8h2.1v2.7h-2.1zM391.8 130.6h2.1v2.7h-2.1zM392 131.4h2.1v2.7h-2.1zM392.3 131.2h2.1v2.7h-2.1zM392.8 132.2h2.1v2.7h-2.1zM393.1 133.2h2.1v2.7h-2.1zM393.4 133.4h2.1v2.7h-2.1zM393.6 133.9h2.1v2.7h-2.1zM393.9 134h2.1v2.7h-2.1zM394.2 135.5h2.1v2.7h-2.1zM394.4 135.3h2.1v2.7h-2.1zM394.9 136.1h2.1v2.7h-2.1zM395.2 135.8h2.1v2.7h-2.1zM395.5 136.5h2.1v2.7h-2.1zM395.7 136.9h2.1v2.7h-2.1zM396 138.4h2.1v2.7h-2.1zM396.2 138h2.1v2.7h-2.1zM396.5 138.3h2.1v2.7h-2.1zM397 138.8h2.1v2.7h-2.1zM397.2 140.6h2.1v2.7h-2.1zM397.5 140.5h2.1v2.7h-2.1zM397.7 140.9h2.1v2.7h-2.1zM397.9 140.4h2.1v2.7h-2.1zM398.2 141.9h2.1v2.7h-2.1zM398.4 142.1h2.1v2.7h-2.1zM398.9 142.2h2.1v2.7h-2.1zM399.1 142.7h2.1v2.7h-2.1zM399.4 143.3h2.1v2.7h-2.1zM399.6 144.3h2.1v2.7h-2.1zM399.8 144h2.1v2.7h-2.1zM400.1 145.6h2.1v2.7h-2.1zM400.3 145h2.1v2.7h-2.1zM400.8 146.3h2.1v2.7h-2.1zM401 146.7h2.1v2.7h-2.1zM401.2 146.6h2.1v2.7h-2.1zM401.4 146.6h2.1v2.7h-2.1zM401.7 147.9h2.1v2.7h-2.1zM401.9 148.9h2.1v2.7h-2.1zM402.1 147.6h2.1v2.7h-2.1zM402.6 148.8h2.1v2.7h-2.1zM402.8 149.6h2.1v2.7h-2.1zM403 149.5h2.1v2.7h-2.1zM403.2 149.8h2.1v2.7h-2.1zM403.4 152h2.1v2.7h-2.1zM403.7 151.1h2.1v2.7h-2.1zM403.9 152.4h2.1v2.7h-2.1zM404.3 153.5h2.1v2.7h-2.1zM404.5 153.9h2.1v2.7h-2.1zM404.7 152.7h2.1v2.7h-2.1zM404.9 154.3h2.1v2.7h-2.1zM405.1 154.9h2.1v2.7h-2.1zM405.4 155.3h2.1v2.7h-2.1zM405.6 156.4h2.1v2.7h-2.1zM406 157.4h2.1v2.7h-2.1zM406.2 156.6h2.1v2.7h-2.1zM406.4 158.7h2.1v2.7h-2.1zM406.6 158.7h2.1v2.7h-2.1zM406.8 158.2h2.1v2.7h-2.1zM407 159.6h2.1v2.7h-2.1zM407.2 160.8h2.1v2.7h-2.1zM407.6 160.7h2.1v2.7h-2.1zM407.8 162.5h2.1v2.7h-2.1zM408 162.7h2.1v2.7h-2.1zM408.2 162.5h2.1v2.7h-2.1zM408.4 162h2.1v2.7h-2.1zM408.6 163h2.1v2.7h-2.1zM408.8 163.4h2.1v2.7h-2.1zM409.2 166.3h2.1v2.7h-2.1zM409.4 166.3h2.1v2.7h-2.1zM409.6 166.6h2.1v2.7h-2.1zM409.7 166.6h2.1v2.7h-2.1zM409.9 166.7h2.1v2.7h-2.1zM410.1 167.3h2.1v2.7h-2.1zM410.3 168.5h2.1v2.7h-2.1zM410.7 170.7h2.1v2.7h-2.1zM410.9 169.3h2.1v2.7h-2.1zM411.1 171.7h2.1v2.7h-2.1zM411.2 171.7h2.1v2.7h-2.1zM411.4 170.3h2.1v2.7h-2.1zM411.6 173.1h2.1v2.7h-2.1zM411.8 173.8h2.1v2.7h-2.1zM412.2 174h2.1v2.7h-2.1zM412.3 175.5h2.1v2.7h-2.1zM412.5 173.5h2.1v2.7h-2.1zM412.7 175.2h2.1v2.7h-2.1zM412.9 176.4h2.1v2.7h-2.1zM413.1 176.5h2.1v2.7h-2.1zM413.2 176.9h2.1v2.7h-2.1zM413.6 177.2h2.1v2.7h-2.1zM413.8 178.3h2.1v2.7h-2.1zM414 180h2.1v2.7h-2.1zM414.1 175.8h2.1v2.7h-2.1zM414.3 180.6h2.1v2.7h-2.1zM414.5 177.9h2.1v2.7h-2.1zM414.7 180.9h2.1v2.7h-2.1zM415 182.1h2.1v2.7h-2.1zM415.2 185.1h2.1v2.7h-2.1zM415.3 180.7h2.1v2.7h-2.1zM415.5 184.6h2.1v2.7h-2.1zM415.7 183.1h2.1v2.7h-2.1zM415.8 184.5h2.1v2.7h-2.1zM416 185.1h2.1v2.7h-2.1zM416.4 185.9h2.1v2.7h-2.1zM416.5 187.1h2.1v2.7h-2.1zM416.7 186.7h2.1v2.7h-2.1zM416.9 188.6h2.1v2.7h-2.1zM417 189.4h2.1v2.7h-2.1zM417.2 185.8h2.1v2.7h-2.1zM417.3 187.1h2.1v2.7h-2.1zM417.7 191.2h2.1v2.7h-2.1zM417.8 192.6h2.1v2.7h-2.1zM418 192.1h2.1v2.7h-2.1zM418.2 189.8h2.1v2.7h-2.1zM418.3 190h2.1v2.7h-2.1zM418.5 192.1h2.1v2.7h-2.1zM418.6 192.8h2.1v2.7h-2.1zM419 192.1h2.1v2.7h-2.1zM419.1 195.1h2.1v2.7h-2.1zM419.3 193.6h2.1v2.7h-2.1zM419.4 198.5h2.1v2.7h-2.1zM419.6 195.1h2.1v2.7h-2.1zM419.7 197.8h2.1v2.7h-2.1zM419.9 197.2h2.1v2.7h-2.1zM420.2 194.9h2.1v2.7h-2.1zM420.4 199.2h2.1v2.7h-2.1zM420.5 202.8h2.1v2.7h-2.1zM420.7 200h2.1v2.7h-2.1zM420.8 201.1h2.1v2.7h-2.1zM421 201.6h2.1v2.7h-2.1zM421.1 204h2.1v2.7h-2.1zM421.4 202.2h2.1v2.7h-2.1zM421.6 202.3h2.1v2.7h-2.1zM421.7 207.8h2.1v2.7h-2.1zM421.9 206.7h2.1v2.7h-2.1zM422 206.8h2.1v2.7h-2.1zM422.2 209.9h2.1v2.7h-2.1zM422.3 210.5h2.1v2.7h-2.1zM422.6 200.9h2.1v2.7h-2.1zM422.8 202.6h2.1v2.7h-2.1zM422.9 202.4h2.1v2.7h-2.1zM423.1 209.8h2.1v2.7h-2.1zM423.2 206.4h2.1v2.7h-2.1zM423.4 209.6h2.1v2.7h-2.1zM423.5 210.3h2.1v2.7h-2.1zM423.6 213.5h2.1v2.7h-2.1zM423.8 209.9h2.1v2.7h-2.1zM423.9 210.5h2.1v2.7h-2.1zM424.1 211.3h2.1v2.7h-2.1zM424.2 218.1h2.1v2.7h-2.1zM424.4 213.1h2.1v2.7h-2.1zM424.5 212.8h2.1v2.7h-2.1zM424.6 216.1h2.1v2.7h-2.1zM424.8 213.8h2.1v2.7h-2.1zM424.9 216.3h2.1v2.7h-2.1zM425.1 207.5h2.1v2.7h-2.1zM425.2 217.6h2.1v2.7h-2.1zM425.3 220.4h2.1v2.7h-2.1zM425.5 216.2h2.1v2.7h-2.1zM425.6 214.5h2.1v2.7h-2.1zM425.8 215.2h2.1v2.7h-2.1zM425.9 213.8h2.1v2.7h-2.1zM426 219.8h2.1v2.7h-2.1zM426.2 231h2.1v2.7h-2.1zM426.3 222.6h2.1v2.7h-2.1zM426.5 218.3h2.1v2.7h-2.1zM426.6 214.9h2.1v2.7h-2.1zM426.7 232.2h2.1v2.7h-2.1zM426.9 217.7h2.1v2.7h-2.1zM427 227.3h2.1v2.7h-2.1zM427.1 224.4h2.1v2.7h-2.1zM427.3 233.3h2.1v2.7h-2.1zM427.4 235.9h2.1v2.7h-2.1zM427.5 236.6h2.1v2.7h-2.1zM427.7 236.7h2.1v2.7h-2.1zM427.8 230.5h2.1v2.7h-2.1zM427.9 231.8h2.1v2.7h-2.1zM428.1 235.5h2.1v2.7h-2.1zM428.2 239.5h2.1v2.7h-2.1zM428.3 229.3h2.1v2.7h-2.1zM428.5 234.2h2.1v2.7h-2.1zM428.6 235.1h2.1v2.7h-2.1zM428.7 244.4h2.1v2.7h-2.1zM428.8 232.6h2.1v2.7h-2.1zM429 231.3h2.1v2.7h-2.1zM429.1 238.5h2.1v2.7h-2.1zM429.2 228.3h2.1v2.7h-2.1zM429.4 221.5h2.1v2.7h-2.1zM429.5 226.5h2.1v2.7h-2.1zM429.6 231.4h2.1v2.7h-2.1zM429.8 241.9h2.1v2.7h-2.1zM429.9 236.8h2.1v2.7h-2.1zM430 249.8h2.1v2.7h-2.1zM430.1 234.7h2.1v2.7h-2.1zM430.3 248.4h2.1v2.7h-2.1zM430.4 236.5h2.1v2.7h-2.1zM430.5 239.6h2.1v2.7h-2.1zM430.6 242.7h2.1v2.7h-2.1zM430.9 250.4h2.1v2.7h-2.1zM431.1 235.9h2.1v2.7h-2.1zM431.3 236.1h2.1v2.7h-2.1zM431.4 250.2h2.1v2.7h-2.1zM431.6 249h2.1v2.7h-2.1zM424.4 216.7h2.1v2.7h-2.1zM424.4 217.2h2.1v2.7h-2.1zM424.5 217.8h2.1v2.7h-2.1zM424.4 218.4h2.1v2.7h-2.1zM425.3 219h2.1v2.7h-2.1zM424.6 219.6h2.1v2.7h-2.1zM425.6 220.2h2.1v2.7h-2.1zM424.5 220.8h2.1v2.7h-2.1zM424.7 221.4h2.1v2.7h-2.1zM424.7 222h2.1v2.7h-2.1zM426.4 222.6h2.1v2.7h-2.1zM424.4 223.2h2.1v2.7h-2.1zM424.7 223.8h2.1v2.7h-2.1zM424.5 224.4h2.1v2.7h-2.1zM424.7 225h2.1v2.7h-2.1zM425.9 225.6h2.1v2.7h-2.1zM426.8 226.2h2.1v2.7h-2.1zM426.4 226.8h2.1v2.7h-2.1zM427.8 227.4h2.1v2.7h-2.1zM425.6 228h2.1v2.7h-2.1zM426.6 228.6h2.1v2.7h-2.1zM424.5 229.2h2.1v2.7h-2.1zM427.5 229.8h2.1v2.7h-2.1zM426.3 230.4h2.1v2.7h-2.1zM425.8 231h2.1v2.7h-2.1zM428.8 231.6h2.1v2.7h-2.1zM427.6 232.2h2.1v2.7h-2.1zM426.1 232.8h2.1v2.7h-2.1zM426.4 233.4h2.1v2.7h-2.1zM427.2 234h2.1v2.7h-2.1zM425.8 234.6h2.1v2.7h-2.1zM425.9 235.2h2.1v2.7h-2.1zM427.9 235.8h2.1v2.7h-2.1zM426.8 236.4h2.1v2.7h-2.1zM427.1 237h2.1v2.7h-2.1zM429 237.6h2.1v2.7h-2.1zM427.5 238.2h2.1v2.7h-2.1zM428.6 238.8h2.1v2.7h-2.1zM430.6 239.4h2.1v2.7h-2.1zM431.1 240h2.1v2.7h-2.1zM428 240.6h2.1v2.7h-2.1zM428.7 241.2h2.1v2.7h-2.1zM429.3 241.8h2.1v2.7h-2.1zM430.9 242.4h2.1v2.7h-2.1zM428.2 243h2.1v2.7h-2.1zM430.1 243.6h2.1v2.7h-2.1zM431.6 244.2h2.1v2.7h-2.1zM430.1 244.8h2.1v2.7h-2.1zM428.8 245.4h2.1v2.7h-2.1zM430 246h2.1v2.7h-2.1zM430.4 246.6h2.1v2.7h-2.1zM431.1 247.2h2.1v2.7h-2.1zM430.7 247.8h2.1v2.7h-2.1zM428.8 248.4h2.1v2.7h-2.1zM429 249h2.1v2.7h-2.1zM429 249.6h2.1v2.7h-2.1zM431.8 250.2h2.1v2.7h-2.1zM429.7 250.8h2.1v2.7h-2.1zM428.8 251.4h2.1v2.7h-2.1z" stroke="#f0f" stroke-width="0.82" fill="none"/>
<path d="M167.3 34.4h2.1v2.7h-2.1zM190.3 38.6h2.1v2.7h-2.1zM201.5 39.4h2.1v2.7h-2.1zM213.3 43h2.1v2.7h-2.1zM221.9 44h2.1v2.7h-2.1zM224.5 44h2.1v2.7h-2.1zM230.3 44.8h2.1v2.7h-2.1zM236.9 46.2h2.1v2.7h-2.1zM242.7 48.2h2.1v2.7h-2.1zM248 47.9h2.1v2.7h-2.1zM252.7 51.5h2.1v2.7h-2.1zM257 53.8h2.1v2.7h-2.1zM261 52.7h2.1v2.7h-2.1zM264.7 54.4h2.1v2.7h-2.1zM268.1 55.2h2.1v2.7h-2.1zM271.3 56.3h2.1v2.7h-2.1zM291.4 59.9h2.1v2.7h-2.1zM305.7 64.5h2.1v2.7h-2.1zM316.8 68.5h2.1v2.7h-2.1zM325.9 72.5h2.1v2.7h-2.1zM333.5 76.8h2.1v2.7h-2.1zM340.1 80.7h2.1v2.7h-2.1zM346 84.1h2.1v2.7h-2.1zM351.2 87.1h2.1v2.7h-2.1zM356 90.5h2.1v2.7h-2.1zM360.3 94.1h2.1v2.7h-2.1zM364.2 96.9h2.1v2.7h-2.1zM367.9 100.1h2.1v2.7h-2.1zM371.4 102.6h2.1v2.7h-2.1zM374.6 106h2.1v2.7h-2.1zM377.6 109.2h2.1v2.7h-2.1zM380.4 113h2.1v2.7h-2.1zM383.1 116.2h2.1v2.7h-2.1zM385.6 119.2h2.1v2.7h-2.1zM388.1 122.2h2.1v2.7h-2.1zM390.4 125h2.1v2.7h-2.1zM392.6 129h2.1v2.7h-2.1zM394.7 132.3h2.1v2.7h-2.1zM396.7 136h2.1v2.7h-2.1zM398.7 139.2h2.1v2.7h-2.1zM400.5 142.4h2.1v2.7h-2.1zM402.3 146.1h2.1v2.7h-2.1zM404.1 149h2.1v2.7h-2.1zM405.8 153.5h2.1v2.7h-2.1zM407.4 157.2h2.1v2.7h-2.1zM409 161.4h2.1v2.7h-2.1zM410.5 165h2.1v2.7h-2.1zM412 169.2h2.1v2.7h-2.1zM413.4 172.1h2.1v2.7h-2.1zM414.8 175.6h2.1v2.7h-2.1zM416.2 181.9h2.1v2.7h-2.1zM417.5 186.2h2.1v2.7h-2.1zM418.8 188.3h2.1v2.7h-2.1zM420.1 193.7h2.1v2.7h-2.1zM421.3 198.4h2.1v2.7h-2.1zM422.5 207.4h2.1v2.7h-2.1zM428.8 253.3h2.1v2.7h-2.1zM429.4 253.3h2.1v2.7h-2.1zM430 253.3h2.1v2.7h-2.1zM433.3 253.6h2.1v2.7h-2.1zM433.6 253.6h2.1v2.7h-2.1zM431.6 256.8h2.1v2.7h-2.1zM436.3 258.6h2.1v2.7h-2.1zM436.9 258.6h2.1v2.7h-2.1zM437.6 258.6h2.1v2.7h-2.1zM433.6 261.2h2.1v2.7h-2.1zM434.3 261.2h2.1v2.7h-2.1zM434.9 261.2h2.1v2.7h-2.1zM435.6 261.2h2.1v2.7h-2.1zM429.3 265.1h2.1v2.7h-2.1zM429.4 265.1h2.1v2.7h-2.1zM438.7 265.1h2.1v2.7h-2.1zM439.3 265.1h2.1v2.7h-2.1zM432.3 269.1h2.1v2.7h-2.1zM432.9 269.1h2.1v2.7h-2.1zM433.4 269.1h2.1v2.7h-2.1zM434 269.1h2.1v2.7h-2.1zM434.6 269.1h2.1v2.7h-2.1zM435.9 273.2h2.1v2.7h-2.1zM436.6 273.2h2.1v2.7h-2.1zM437.3 273.2h2.1v2.7h-2.1zM438 273.2h2.1v2.7h-2.1zM438.7 273.2h2.1v2.7h-2.1zM439.4 273.2h2.1v2.7h-2.1zM440.1 273.2h2.1v2.7h-2.1zM440.8 273.2h2.1v2.7h-2.1zM163.4 282.6h2.1v2.7h-2.1z" stroke="#f0f" stroke-width="0.56" fill="none"/>
<path d="M426.9 227.8h2.8M428.3 226.4v2.8M428.3 228.4h2.8M429.7 227v2.8M426 229.6h2.8M427.4 228.2v2.8M426.1 230.2h2.8M427.5 228.8v2.8M426.1 230.8h2.8M427.5 229.4v2.8M429.7 232h2.8M431.1 230.6v2.8M430.2 236.2h2.8M431.6 234.8v2.8M431.4 238h2.8M432.8 236.6v2.8M428.5 239.2h2.8M429.9 237.8v2.8M432.2 241.6h2.8M433.6 240.2v2.8M432.6 245.8h2.8M434 244.4v2.8M432 247.6h2.8M433.4 246.2v2.8M430.4 253h2.8M431.8 251.6v2.8M427 226.5l2.6 2.6M427 229.1l2.6 -2.6M428.4 227.1l2.6 2.6M428.4 229.7l2.6 -2.6M426.1 228.3l2.6 2.6M426.1 230.9l2.6 -2.6M426.2 228.9l2.6 2.6M426.2 231.5l2.6 -2.6M426.2 229.5l2.6 2.6M426.2 232.1l2.6 -2.6M429.8 230.7l2.6 2.6M429.8 233.3l2.6 -2.6M430.3 234.9l2.6 2.6M430.3 237.5l2.6 -2.6M431.5 236.7l2.6 2.6M431.5 239.3l2.6 -2.6M428.6 237.9l2.6 2.6M428.6 240.5l2.6 -2.6M432.3 240.3l2.6 2.6M432.3 242.9l2.6 -2.6M432.7 244.5l2.6 2.6M432.7 247.1l2.6 -2.6M432.1 246.3l2.6 2.6M432.1 248.9l2.6 -2.6M430.5 251.7l2.6 2.6M430.5 254.3l2.6 -2.6" stroke="#00f" stroke-width="0.75" fill="none"/>
</svg></body></html>
